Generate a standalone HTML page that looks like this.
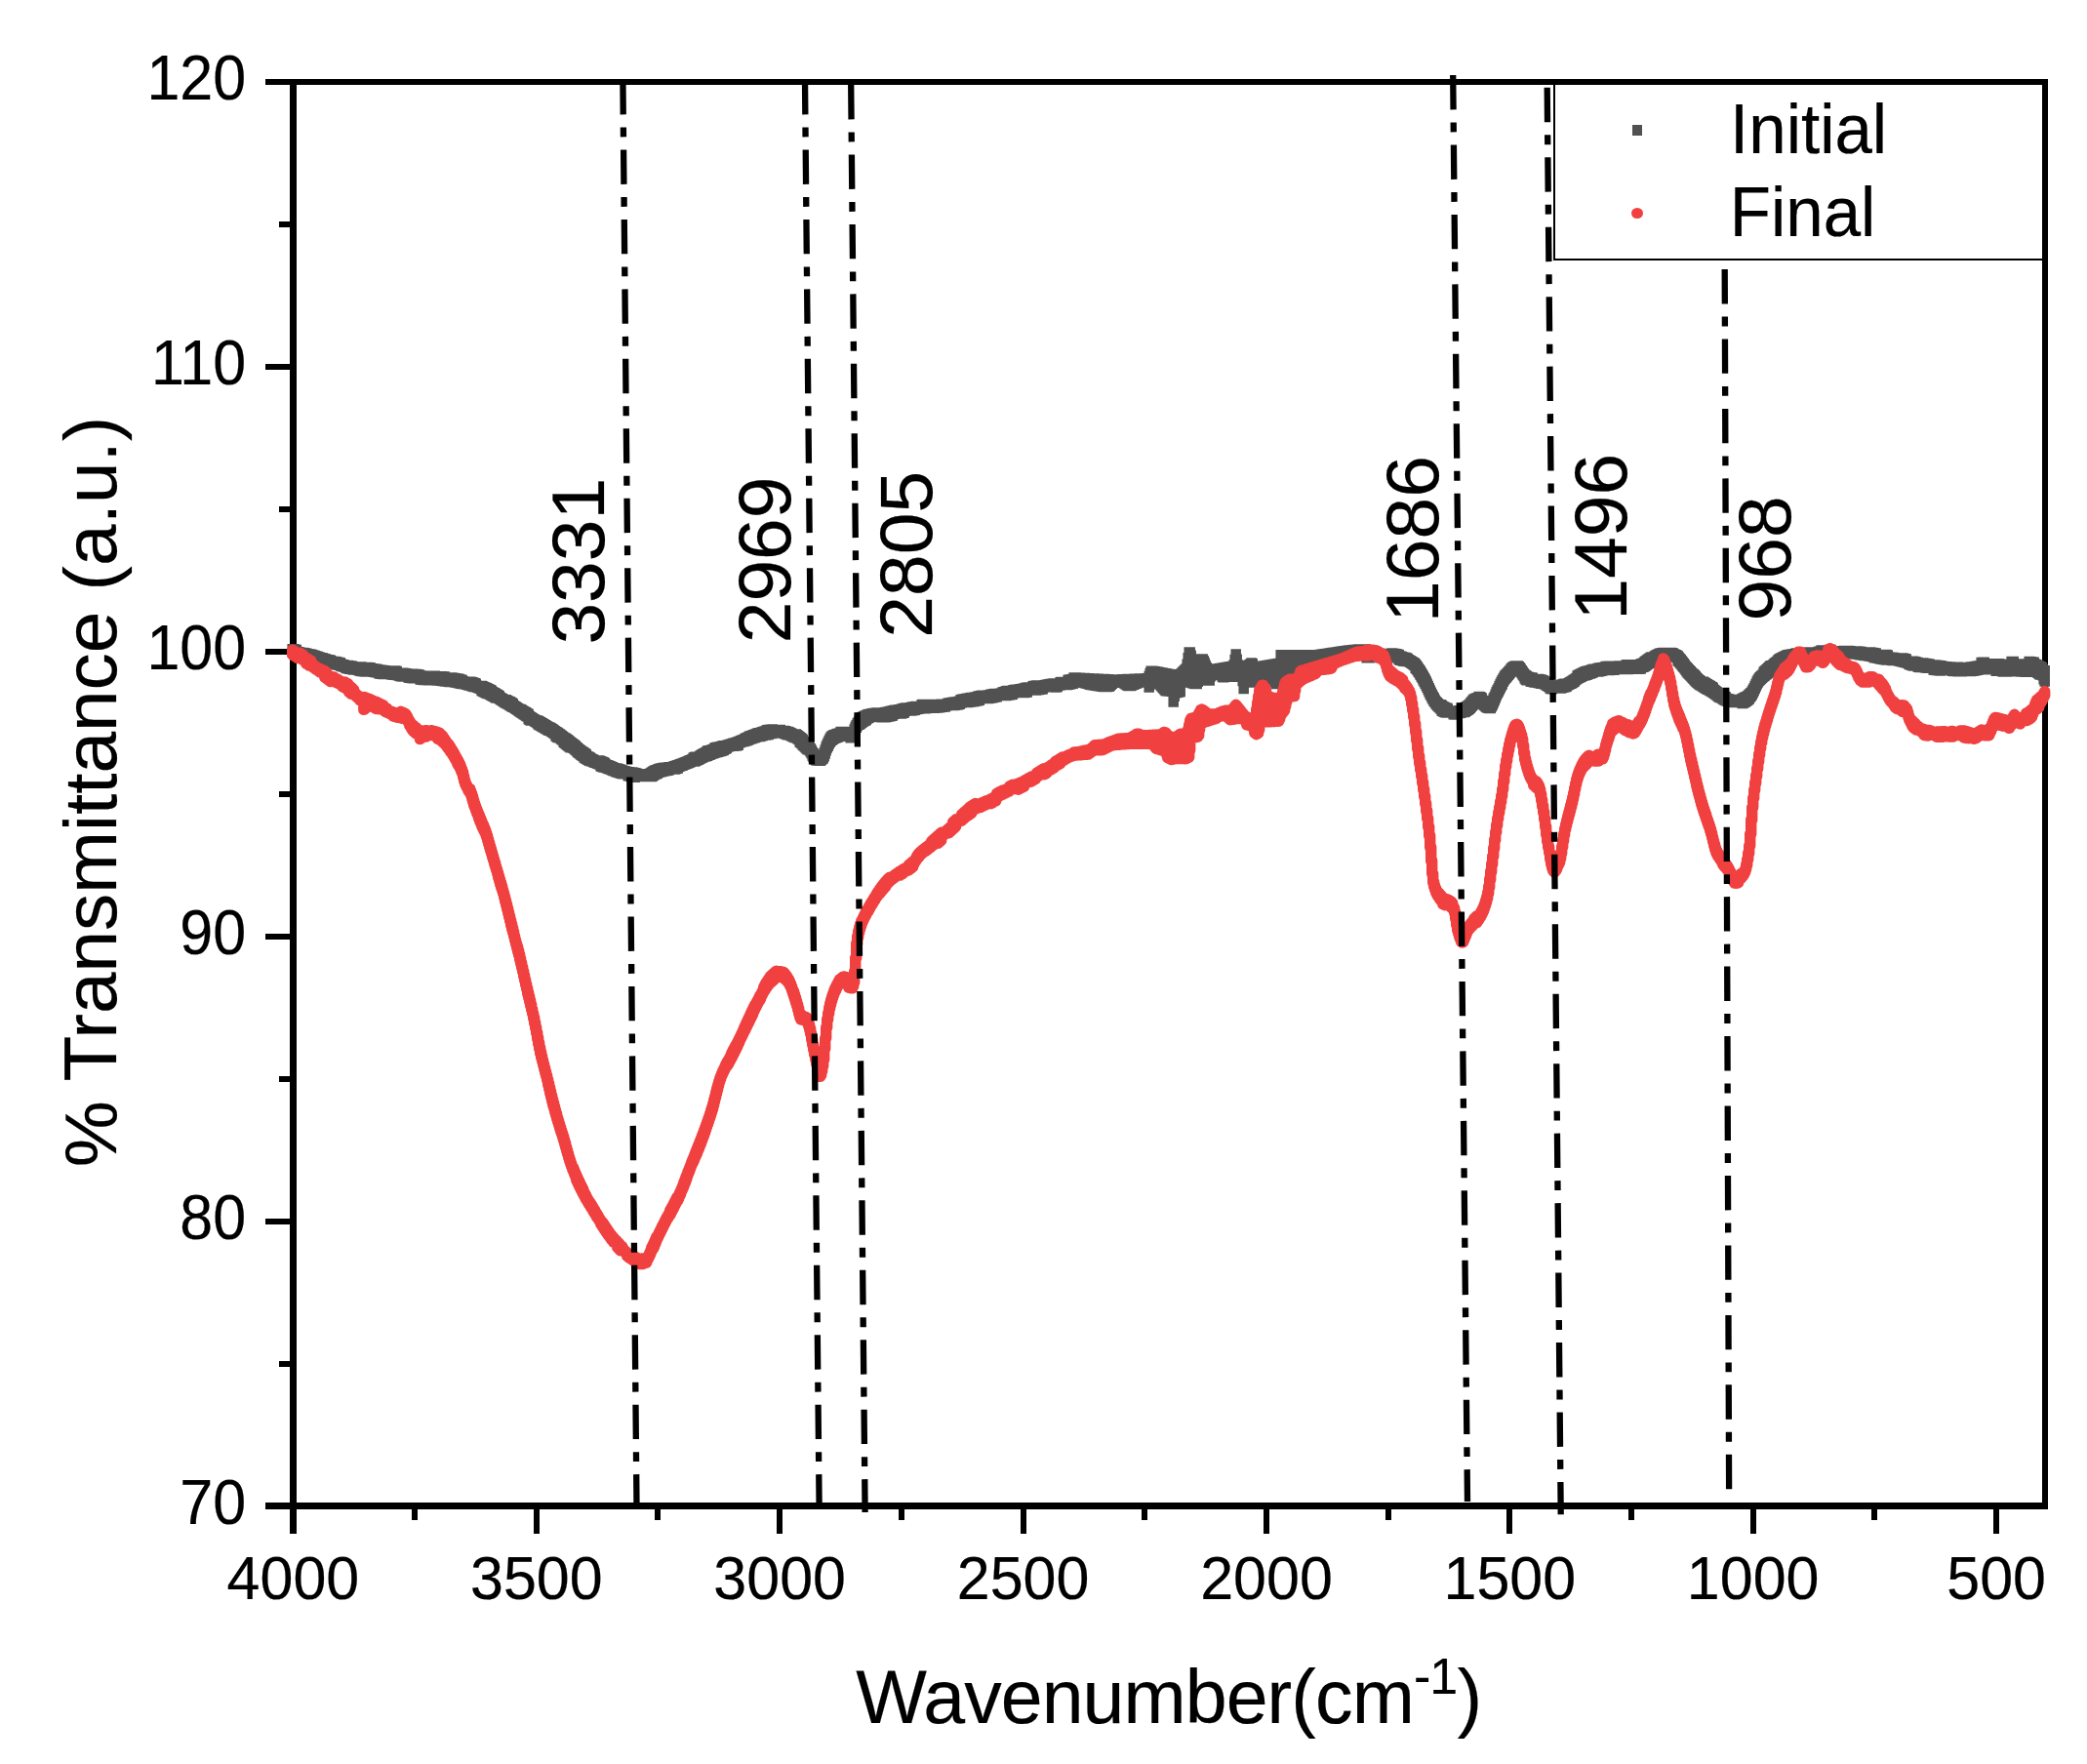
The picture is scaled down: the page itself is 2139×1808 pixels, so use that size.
<!DOCTYPE html>
<html lang="en"><head><meta charset="utf-8"><title>FTIR spectra</title>
<style>html,body{margin:0;padding:0;background:#fff}svg{display:block}text{font-family:"Liberation Sans", sans-serif;fill:#000;stroke:#000;stroke-width:0.2px}</style>
</head><body>
<svg width="2139" height="1808" viewBox="0 0 2139 1808">
<rect width="2139" height="1808" fill="#fff"/>
<g fill="#000" shape-rendering="crispEdges">
<rect x="297" y="81" width="7" height="1491"/>
<rect x="2093" y="81" width="6" height="1466"/>
<rect x="272" y="81" width="1827" height="6"/>
<rect x="272" y="1540" width="1827" height="7"/>
<rect x="286" y="1395" width="12" height="6"/>
<rect x="272" y="1249" width="26" height="6"/>
<rect x="286" y="1103" width="12" height="6"/>
<rect x="272" y="957" width="26" height="6"/>
<rect x="286" y="811" width="12" height="6"/>
<rect x="272" y="665" width="26" height="6"/>
<rect x="286" y="519" width="12" height="6"/>
<rect x="272" y="373" width="26" height="6"/>
<rect x="286" y="227" width="12" height="6"/>
<rect x="422" y="1546" width="6" height="12"/>
<rect x="547" y="1546" width="6" height="26"/>
<rect x="671" y="1546" width="6" height="12"/>
<rect x="796" y="1546" width="6" height="26"/>
<rect x="921" y="1546" width="6" height="12"/>
<rect x="1046" y="1546" width="6" height="26"/>
<rect x="1170" y="1546" width="6" height="12"/>
<rect x="1295" y="1546" width="6" height="26"/>
<rect x="1420" y="1546" width="6" height="12"/>
<rect x="1544" y="1546" width="6" height="26"/>
<rect x="1669" y="1546" width="6" height="12"/>
<rect x="1794" y="1546" width="6" height="26"/>
<rect x="1918" y="1546" width="6" height="12"/>
<rect x="2043" y="1546" width="6" height="26"/>
</g>
<text font-size="61" text-anchor="end" transform="translate(252.2 1561.8) scale(1 1.055)">70</text>
<text font-size="61" text-anchor="end" transform="translate(252.2 1269.9) scale(1 1.055)">80</text>
<text font-size="61" text-anchor="end" transform="translate(252.2 978) scale(1 1.055)">90</text>
<text font-size="61" text-anchor="end" transform="translate(252.2 686.1) scale(1 1.055)">100</text>
<text font-size="61" text-anchor="end" transform="translate(252.2 394.2) scale(1 1.055)">110</text>
<text font-size="61" text-anchor="end" transform="translate(252.2 102.3) scale(1 1.055)">120</text>
<text font-size="61" text-anchor="middle" transform="translate(300.4 1639.3) scale(1 1.025)">4000</text>
<text font-size="61" text-anchor="middle" transform="translate(549.8 1639.3) scale(1 1.025)">3500</text>
<text font-size="61" text-anchor="middle" transform="translate(799.2 1639.3) scale(1 1.025)">3000</text>
<text font-size="61" text-anchor="middle" transform="translate(1048.6 1639.3) scale(1 1.025)">2500</text>
<text font-size="61" text-anchor="middle" transform="translate(1298 1639.3) scale(1 1.025)">2000</text>
<text font-size="61" text-anchor="middle" transform="translate(1547.3 1639.3) scale(1 1.025)">1500</text>
<text font-size="61" text-anchor="middle" transform="translate(1796.7 1639.3) scale(1 1.025)">1000</text>
<text font-size="61" text-anchor="middle" transform="translate(2046.1 1639.3) scale(1 1.025)">500</text>
<text font-size="76.5" text-anchor="middle" transform="translate(119.2 811.6) rotate(-90)">% Transmittance (a.u.)</text>
<text font-size="77" transform="translate(877.3 1766)" letter-spacing="-0.9">Wavenumber(cm<tspan font-size="52" dy="-30">-1</tspan><tspan dy="30">)</tspan></text>
<g fill="none">
<path stroke="#515151" stroke-width="10.5" stroke-linecap="square" d="M299.7 665.2V668.3M300.7 665.3V668.5M301.7 665.5V668.7M302.7 665.7V668.9M303.7 665.9V669.1M304.7 668V669.3M305.7 668.2V669.5M306.7 668.4V669.7M307.7 668.7V671.2M308.7 668.9V671.5M309.7 669.1V671.7M310.7 668.9V671.3M311.7 669.2V671.6M312.7 669.4V671.8M313.7 669.6V672.1M314.7 669.9V672.3M315.7 670.2V672.6M316.7 670.4V672.9M317.7 670.5V672.6M318.7 670.8V672.9M319.7 671.1V673.2M320.7 671.4V673.5M321.7 671.7V673.9M322.7 672V674.2M323.7 672.4V674.6M324.7 672.7V674.9M325.7 673.1V676.7M326.7 673.5V677M327.7 673.8V677.4M328.7 674.2V676.7M329.7 674.2V677M330.7 674.6V677.4M331.7 674.9V677.8M332.7 675.3V678M333.7 675.6V678.3M334.7 676V678.7M335.7 676.3V679.2M336.7 676.2V679.6M337.7 676.5V679.9M338.7 676.8V680.2M339.7 677.6V680.5M340.7 677.9V680.8M341.7 678.2V681M342.7 677.9V680.6M343.7 678.1V680.9M344.7 678.4V681.1M345.7 678.6V681.4M346.7 678.9V681.6M347.7 679.1V681.8M348.7 679.3V682.1M349.7 680.7V682.9M350.7 681V683.1M351.7 681.2V683.3M352.7 681.4V683.5M353.7 682V683.7M354.7 682.2V684.9M355.7 682.4V685.1M356.7 682V685.3M357.7 682.2V685.5M358.7 682.4V685.7M359.7 682.6V685.8M360.7 682.8V686M361.7 683.3V686.2M362.7 683.5V686.4M363.7 683.7V686.6M364.7 683.9V686.4M365.7 684.1V686.6M366.7 684.2V686.7M367.7 684.4V686.9M368.7 684.6V687.5M369.7 683.6V687.7M370.7 683.7V687.9M371.7 683.9V688M372.7 684V688.2M373.7 684.8V688.3M374.7 685V688.4M375.7 685.1V688.6M376.7 684.1V687.9M377.7 684.2V688.1M378.7 684.3V688.2M379.7 684.5V688.3M380.7 685.2V688.4M381.7 685.3V688.6M382.7 685.5V688.7M383.7 685.6V688.8M384.7 685.7V689.1M385.7 685.8V689.2M386.7 685.9V689.3M387.7 686.5V689.4M388.7 686.6V690.5M389.7 686.7V690.6M390.7 686.8V690.7M391.7 686.9V690.8M392.7 687.1V691M393.7 687.2V690M394.7 687.3V690.1M395.7 688.3V690.2M396.7 688.4V690.4M397.7 688.6V690.8M398.7 688.7V690.9M399.7 688.8V691M400.7 689V691.3M401.7 689.1V691.5M402.7 689.2V691.6M403.7 687.4V691.8M404.7 687.6V691.7M405.7 687.7V691.8M406.7 687.9V692M407.7 690.1V692.1M408.7 690.3V692.3M409.7 690.4V692.9M410.7 690.6V693.1M411.7 690.8V693.3M412.7 689.7V693.4M413.7 689.9V692.7M414.7 690V692.9M415.7 690.2V693.1M416.7 690.4V693.2M417.7 690.5V693.4M418.7 690.7V694.5M419.7 690.9V694.7M420.7 691V694.8M421.7 691.2V695M422.7 691.3V695.1M423.7 690.7V695.2M424.7 690.9V693.9M425.7 691V694.1M426.7 691.1V694.2M427.7 691.3V694.3M428.7 691.4V694.4M429.7 691.5V694.5M430.7 692.5V696.5M431.7 692.6V696.6M432.7 692.7V696.7M433.7 692.8V696.8M434.7 692.9V696.9M435.7 693.1V696.9M436.7 693.2V697M437.7 693.2V697.1M438.7 692.9V697.2M439.7 692.9V697.3M440.7 693V697.3M441.7 693.1V695.2M442.7 693.1V695.2M443.7 692.7V695.3M444.7 692.7V695.3M445.7 692.8V695.4M446.7 694.3V695.5M447.7 694.4V697.4M448.7 694.4V697.5M449.7 694.5V697.6M450.7 693.2V697.6M451.7 693.2V697.7M452.7 693.3V697.8M453.7 693.4V697.9M454.7 693.5V698M455.7 693.6V698.3M456.7 694.5V698.4M457.7 694.6V698.5M458.7 694.7V698.6M459.7 694.8V698.7M460.7 694.9V698.9M461.7 695.1V699M462.7 694.6V698.7M463.7 694.8V698.9M464.7 695V699M465.7 695.1V699.2M466.7 695.3V699.4M467.7 695.5V699.6M468.7 695.5V699.8M469.7 695.7V700M470.7 695.9V700.3M471.7 696.5V700.5M472.7 696.7V700.7M473.7 696.9V700.9M474.7 698.4V700.8M475.7 698.6V701.1M476.7 698.8V701.3M477.7 699.1V701.6M478.7 699.3V701.8M479.7 699.6V702.1M480.7 699.9V702.4M481.7 698.7V702.5M482.7 699V702.8M483.7 699.3V703.2M484.7 699.6V703.5M485.7 700V703.9M486.7 700.3V703.6M487.7 700.7V704M488.7 702.8V704.4M489.7 703.2V704.8M490.7 703.6V705.2M491.7 704V705.6M492.7 704.5V706M493.7 703V708.1M494.7 703.5V708.6M495.7 703.9V709M496.7 704.4V709.5M497.7 704.8V710M498.7 705.3V710.4M499.7 705.7V710.9M500.7 706.2V711M501.7 706.7V711.5M502.7 707.2V712M503.7 707.7V712.7M504.7 709.2V713.2M505.7 709.7V713.8M506.7 710.3V714.3M507.7 710.8V714.9M508.7 711.4V715.5M509.7 712V714.9M510.7 712.6V715.5M511.7 713.2V716.1M512.7 714.9V716.7M513.7 715.6V717.5M514.7 716.2V718.1M515.7 716.8V718.7M516.7 717.5V719.4M517.7 718.1V720M518.7 717.2V720.7M519.7 717.9V721.3M520.7 718.5V721.6M521.7 719.1V722.2M522.7 719.3V722.9M523.7 719.9V723.5M524.7 720.6V724.2M525.7 721.2V724.8M526.7 723.2V725.1M527.7 723.9V725.8M528.7 724.5V726.5M529.7 725.2V727.1M530.7 725.9V727.8M531.7 726.6V728.5M532.7 727.3V729.2M533.7 727.1V729.9M534.7 727.8V730.6M535.7 728.5V731.3M536.7 729.1V732M537.7 729.8V732.6M538.7 730.1V733.3M539.7 730.8V734M540.7 731.4V734.6M541.7 732.1V737.1M542.7 734.3V737.7M543.7 735V738.4M544.7 735.6V737.3M545.7 736.2V737.9M546.7 736.9V738.5M547.7 737.5V739.1M548.7 738.1V739.7M549.7 738.7V740.3M550.7 738.4V740.9M551.7 739V742.4M552.7 739.6V743M553.7 740.2V743.6M554.7 740.7V744.1M555.7 741.3V744.7M556.7 741.9V745.3M557.7 742.5V745.8M558.7 743.2V746.4M559.7 743.8V747M560.7 744.4V747.6M561.7 745V748.2M562.7 745.6V748.8M563.7 745.8V748.8M564.7 746.5V749.4M565.7 747.1V750.1M566.7 747.8V750.8M567.7 748.5V751.5M568.7 749.2V752.2M569.7 749.9V754.5M570.7 750.6V755.2M571.7 751.1V756M572.7 751.9V755.6M573.7 752.6V756.3M574.7 753.4V757.1M575.7 754.1V757.9M576.7 754.9V758.6M577.7 755.7V760.7M578.7 756.5V761.5M579.7 756.7V762.3M580.7 757.4V763.1M581.7 758.2V763.9M582.7 759.1V764.6M583.7 759.9V765.4M584.7 760.7V766.2M585.7 761.4V765.3M586.7 762.2V766M587.7 762.9V766.8M588.7 763.7V767.6M589.7 764.5V768.4M590.7 765.8V769.2M591.7 766.6V770.6M592.7 767.4V771.4M593.7 768.2V772.1M594.7 769V772.9M595.7 769.8V773.7M596.7 770.5V774.4M597.7 771V775.1M598.7 771.7V776.5M599.7 772.4V777.1M600.7 773V777.7M601.7 774.9V778.3M602.7 775.5V778.8M603.7 776V779.4M604.7 776.6V779.9M605.7 777.4V779.8M606.7 777.9V780.3M607.7 778.4V780.8M608.7 778.9V781.2M609.7 779.4V781.7M610.7 779.9V781.8M611.7 780.3V782.2M612.7 780.8V782.7M613.7 779.4V783.1M614.7 779.8V783.5M615.7 780.3V785.3M616.7 780.7V785.7M617.7 781.1V786.1M618.7 781.6V786.6M619.7 782V786.3M620.7 783.5V786.7M621.7 783.9V787.1M622.7 784.3V787.5M623.7 784.7V787.9M624.7 785.1V788.3M625.7 785.6V788.6M626.7 786V789M627.7 786.3V789.6M628.7 787V789.9M629.7 787.3V790.3M630.7 787.7V790.6M631.7 787.5V791.2M632.7 787.8V791.5M633.7 788.1V791.8M634.7 788.5V792.1M635.7 788.8V792.4M636.7 789.1V792.7M637.7 789.4V793M638.7 790V793.3M639.7 790.3V792.2M640.7 790.5V792.5M641.7 790.8V792.7M642.7 791V793M643.7 791.3V794.9M644.7 791.2V795.2M645.7 791.4V795.5M646.7 791.7V795.7M647.7 791.5V796M648.7 791.7V796.3M649.7 792V796.5M650.7 792.2V796.8M651.7 792.5V795.8M652.7 792.7V796M653.7 793.5V796.1M654.7 793.6V795.5M655.7 793.8V795.6M656.7 793.2V795.6M657.7 793.2V795.6M658.7 793.2V795.6M659.7 793.8V796M660.7 793.8V796M661.7 793.8V796M662.7 793.8V796M663.7 793.8V796M664.7 793.7V796M665.7 793.4V796M666.7 792.5V795.7M667.7 791.9V796.1M668.7 791.2V795.4M669.7 790.5V794.8M670.7 790V794.1M671.7 789.6V793.5M672.7 789.3V793.2M673.7 789V792.8M674.7 788.3V791.7M675.7 788V791.4M676.7 787.8V791.2M677.7 787.5V790.9M678.7 787.3V790.7M679.7 787.1V790.5M680.7 786.9V790.3M681.7 786.7V790.1M682.7 787.1V789.9M683.7 786.8V789.7M684.7 786.6V789.5M685.7 786.3V789.2M686.7 786.8V788.1M687.7 786.5V787.8M688.7 786.2V787.5M689.7 785.9V787.2M690.7 785.6V786.9M691.7 785.2V788.4M692.7 784.9V788M693.7 784.6V787.7M694.7 784.2V787.4M695.7 783.9V785.7M696.7 783.5V785.4M697.7 783.2V785.1M698.7 782.8V784.7M699.7 782.4V784.4M700.7 782.1V783.8M701.7 781.7V783.5M702.7 781.3V783.1M703.7 780.9V782.7M704.7 780.5V782.3M705.7 780.1V781.9M706.7 779.6V781.5M707.7 779.2V781M708.7 778.8V780.4M709.7 778.3V780M710.7 776.7V779.5M711.7 776.2V780.5M712.7 775.8V780M713.7 776.9V779.6M714.7 776.4V779.1M715.7 775.9V778.7M716.7 775.5V778M717.7 774.4V777.5M718.7 773.9V777M719.7 773.3V776.5M720.7 772.8V776M721.7 772.3V775.5M722.7 771.8V775M723.7 771.3V775.3M724.7 770.1V774.8M725.7 769.6V774.3M726.7 769.2V773.8M727.7 769.3V773.4M728.7 768.9V773M729.7 768.5V772.6M730.7 768.2V772.2M731.7 767.8V771.9M732.7 766.6V771.6M733.7 766.3V771.2M734.7 766V771M735.7 765.7V770.7M736.7 765.7V770.4M737.7 765.5V770.1M738.7 765.2V769.9M739.7 764.9V769.6M740.7 764.6V769.3M741.7 764.3V769M742.7 764.7V767.7M743.7 764.4V767.4M744.7 764V767M745.7 763.7V765.6M746.7 763.4V765.3M747.7 763V764.9M748.7 762.9V764.6M749.7 762.5V764.2M750.7 762.2V763.9M751.7 761.8V764.7M752.7 761.5V764.4M753.7 761.5V764M754.7 761.1V764.4M755.7 760.8V764.1M756.7 760.2V763.7M757.7 759.9V761.3M758.7 759.5V761M759.7 759.1V760.6M760.7 758.7V760.2M761.7 758.3V759.9M762.7 758V760M763.7 757V759.6M764.7 756.6V759.3M765.7 756.2V758.9M766.7 755.8V758.5M767.7 755V758M768.7 754.6V757.6M769.7 754.3V757.3M770.7 753.9V756.9M771.7 753.5V756.6M772.7 753.2V756.3M773.7 752.8V755.9M774.7 752.4V755.6M775.7 752V755.2M776.7 751.6V754.8M777.7 751.2V754.4M778.7 751.3V755M779.7 750.9V754.6M780.7 750.6V754.2M781.7 750.2V753.9M782.7 749.9V753.5M783.7 749.6V753.2M784.7 749.4V753.5M785.7 748.4V753.2M786.7 748.3V753M787.7 748.1V752.9M788.7 748V752.1M789.7 747.8V752M790.7 747.7V751.9M791.7 747.5V751.6M792.7 748.4V751.4M793.7 748.3V751.3M794.7 748.2V751.2M795.7 748.1V751.2M796.7 748V751.1M797.7 748V751M798.7 747.9V751M799.7 747.9V750.9M800.7 748.9V750.9M801.7 748.9V750.9M802.7 749V751.1M803.7 749.1V751.9M804.7 749.3V752.1M805.7 749.6V752.5M806.7 749.9V752.9M807.7 750V753.3M808.7 750.4V753M809.7 750.9V753.5M810.7 751.6V754M811.7 752.1V754.5M812.7 752.5V754.9M813.7 753V755.5M814.7 753.6V756.1M815.7 752.6V755.8M816.7 753.2V756.4M817.7 753.9V757.2M818.7 754.7V758M819.7 755.4V760.4M820.7 756.2V761.2M821.7 757.1V762.1M822.7 757.9V763.4M823.7 759.9V764.3M824.7 760.8V765.3M825.7 761.8V766.3M826.7 762.8V767.2M827.7 763.9V768.2M828.7 765.1V767.8M829.7 765.8V769M830.7 767.3V770.4M831.7 769V772.2M832.7 770.9V774.4M833.7 772.6V776.1M834.7 773.8V777.6M835.7 774.7V778.7M836.7 775.6V779.5M837.7 777.4V779.1M838.7 778.1V779.6M839.7 778.5V779.7M840.7 778.1V779.7M841.7 777.1V779.1M842.7 775.8V778M843.7 774.3V777.2M844.7 771.6V775.2M845.7 768.5V772.5M846.7 765.6V769.3M847.7 763.3V766.6M848.7 761.1V764.8M849.7 758.9V762.6M850.7 757.1V760.7M851.7 755.5V759.3M852.7 754.5V758.5M853.7 753.9V757.7M854.7 753.3V757.1M855.7 753.2V756.5M856.7 752.7V756.2M857.7 752.3V755.8M858.7 752V755.4M859.7 751.7V755M860.7 751.5V754.8M861.7 750V754.6M862.7 749.9V754.5M863.7 749.9V752.9M864.7 750.1V753.2M865.7 750.5V753.7M866.7 750.9V753.9M867.7 751.4V754.3M868.7 751.9V754.6M869.7 753V754.8M870.7 753.1V754.8M871.7 752.8V756.3M872.7 752.3V756M873.7 751.7V755.6M874.7 750.3V753.9M875.7 747.6V751.2M876.7 745.1V748.3M877.7 743.2V745.8M878.7 741.6V744.1M879.7 740.2V742.7M880.7 738.7V742.7M881.7 737.9V741.7M882.7 737.2V740.9M883.7 735.2V740.2M884.7 734.6V739.6M885.7 734.1V739.1M886.7 733.7V738.6M887.7 733.3V738.1M888.7 732.8V736.5M889.7 732.3V736M890.7 731.9V735.6M891.7 732.1V735.1M892.7 731.7V734.7M893.7 731.3V734.3M894.7 731.4V733.9M895.7 731.1V733.5M896.7 730.9V734.7M897.7 730.7V734.5M898.7 730.6V734.3M899.7 730.6V734.2M900.7 730.9V734.3M901.7 731V734.6M902.7 731.3V734.9M903.7 731.6V735.2M904.7 731.6V735.2M905.7 731.6V735.2M906.7 730.2V735.2M907.7 730.1V735.1M908.7 729.9V735M909.7 729.8V734.6M910.7 729.5V734.4M911.7 729.3V734.2M912.7 729.1V733.9M913.7 728.8V733.7M914.7 728.6V733.5M915.7 728.3V732.1M916.7 728.1V731.8M917.7 727.8V731.5M918.7 728.1V731.3M919.7 727.8V731M920.7 727.5V730.7M921.7 727.2V730.4M922.7 727.2V730.1M923.7 726.9V731.4M924.7 726.6V731.1M925.7 726.3V730.8M926.7 726.1V730.6M927.7 725.8V728.7M928.7 725.5V728.4M929.7 725.9V728.2M930.7 725.7V727.9M931.7 725.5V727.7M932.7 725.3V727.5M933.7 725.2V728.4M934.7 724.7V728.2M935.7 724.5V728M936.7 724.4V727.9M937.7 724.3V727.7M938.7 724.1V727M939.7 725.1V726.9M940.7 725V726.7M941.7 724.9V726.6M942.7 724.8V726.5M943.7 724.6V726.1M944.7 722.2V725.9M945.7 722.1V725.8M946.7 722V726.3M947.7 721.9V726.2M948.7 723.4V726M949.7 723.3V725.9M950.7 723.2V725.8M951.7 723.1V725.8M952.7 722.9V725.7M953.7 722.5V725.6M954.7 722.4V725.5M955.7 722.2V725.4M956.7 722.1V725.2M957.7 722V725.7M958.7 721.9V725.6M959.7 722.4V725.5M960.7 722.3V725.4M961.7 722.1V725.3M962.7 722V725.2M963.7 721.9V725.1M964.7 721.8V724.8M965.7 721.7V724.7M966.7 722V724.6M967.7 721.9V724.5M968.7 721.8V724.4M969.7 721.7V723.3M970.7 721.5V723.2M971.7 720.7V723M972.7 720.6V722.9M973.7 720.4V722.8M974.7 720.3V722.6M975.7 720.1V722.5M976.7 720V723M977.7 719.8V722.9M978.7 719.6V722.7M979.7 719.6V722.5M980.7 719.4V722.4M981.7 719.2V722.2M982.7 719V722M983.7 718.8V721.8M984.7 717.2V720.5M985.7 717V720.3M986.7 716.8V720.1M987.7 716.6V719.9M988.7 716.4V719.7M989.7 716.2V719.5M990.7 716V719.3M991.7 715.8V720M992.7 715.7V719.8M993.7 715.5V719.6M994.7 715.2V719.4M995.7 715V719.1M996.7 715.2V719.3M997.7 715V719.1M998.7 714.8V718.9M999.7 714.6V718.6M1000.7 714.4V718.4M1001.7 714.2V718.2M1002.7 713.6V718M1003.7 713.4V717.8M1004.7 713.2V716.3M1005.7 713V716.1M1006.7 712.8V715.9M1007.7 714.4V715.7M1008.7 714.2V715.5M1009.7 714V715.3M1010.7 713.8V715.2M1011.7 713.6V715M1012.7 712.6V716M1013.7 712.4V715.8M1014.7 712.3V715.6M1015.7 711.8V715.4M1016.7 711.6V715.2M1017.7 711.5V715M1018.7 711.3V714.7M1019.7 711.1V714.5M1020.7 711.5V714.3M1021.7 711.4V714.2M1022.7 711.2V712.6M1023.7 711V712.5M1024.7 710.8V712.3M1025.7 710.7V712.1M1026.7 710.5V711.9M1027.7 709.5V711.8M1028.7 709.3V711.6M1029.7 709.2V711.4M1030.7 708.4V713M1031.7 708.3V712.8M1032.7 708.1V712.6M1033.7 708.4V712.5M1034.7 708.2V712.3M1035.7 708V712.1M1036.7 707.9V711.9M1037.7 707.7V711.8M1038.7 707.2V710.2M1039.7 707V710M1040.7 706.9V709.9M1041.7 706.7V709.7M1042.7 706.8V709.5M1043.7 706.7V709.3M1044.7 706.5V709.3M1045.7 706.3V709.2M1046.7 706.2V709M1047.7 706V708.8M1048.7 705.8V708.7M1049.7 705.7V710M1050.7 705.1V709.8M1051.7 704.9V709.6M1052.7 704.7V709.5M1053.7 704.5V707.2M1054.7 705.7V707M1055.7 705.5V706.9M1056.7 705.3V706.7M1057.7 705.1V706.5M1058.7 703.3V706.4M1059.7 703.1V706.2M1060.7 702.9V706M1061.7 702.8V707.4M1062.7 702.6V707.2M1063.7 702.4V707M1064.7 703.3V706.9M1065.7 703.1V706.7M1066.7 703V706.5M1067.7 702.8V706.4M1068.7 702.6V706.2M1069.7 702.5V704.4M1070.7 702.3V704.2M1071.7 702.1V704.1M1072.7 702V703.9M1073.7 701.6V703.8M1074.7 701.5V703.6M1075.7 701.3V703.4M1076.7 701.1V703.3M1077.7 701V703.1M1078.7 700.8V702.9M1079.7 700.6V702.8M1080.7 701.5V702.6M1081.7 701.3V704.4M1082.7 701.1V704.2M1083.7 701V704.1M1084.7 700.8V702.6M1085.7 700.6V702.4M1086.7 699.3V702.3M1087.7 699.1V702.1M1088.7 698.9V701.9M1089.7 699.9V701.7M1090.7 699.7V701.4M1091.7 699.5V701.2M1092.7 699.2V702.1M1093.7 699V701.9M1094.7 696.9V701.7M1095.7 696.7V701.5M1096.7 696.5V701.3M1097.7 696.4V701M1098.7 696.2V700.8M1099.7 696.1V700.7M1100.7 694.5V698.1M1101.7 694.6V698.1M1102.7 694.6V698.1M1103.7 694.7V698.1M1104.7 694.7V698.1M1105.7 694.8V698.3M1106.7 694.8V698.6M1107.7 694.9V698.9M1108.7 695V699.2M1109.7 695V699.5M1110.7 695.1V699.7M1111.7 695.1V700M1112.7 695.2V700.3M1113.7 695.2V700.6M1114.7 695.3V700.8M1115.7 695.3V701.1M1116.7 695.4V701.4M1117.7 695.4V701.7M1118.7 695.5V701.9M1119.7 695.5V702M1120.7 695.6V702.2M1121.7 695.6V702.4M1122.7 695.7V702.5M1123.7 695.7V702.7M1124.7 695.8V702.9M1125.7 695.8V703M1126.7 695.9V703.2M1127.7 695.9V703.3M1128.7 696V703.5M1129.7 696V703.7M1130.7 696.1V703.8M1131.7 696.1V704M1132.7 696.2V704M1133.7 696.2V704M1134.7 696.3V703.9M1135.7 696.3V703.8M1136.7 696.4V703.8M1137.7 696.4V702.8M1138.7 696.4V701.8M1139.7 696.4V700.8M1140.7 696.4V699.8M1141.7 696.4V699.8M1142.7 696.4V699.8M1143.7 696.4V699.8M1144.7 696.4V699.8M1145.7 696.4V699.8M1146.7 696.4V699.8M1147.7 696.4V699.8M1148.7 696.4V699.8M1149.7 696.4V699.8M1150.7 696.3V699.8M1151.7 696.3V700M1152.7 696.3V700.6M1153.7 696.2V701.3M1154.7 696.2V701.9M1155.7 696.1V702.5M1156.7 696.1V703.1M1157.7 696V703.1M1158.7 696V702.9M1159.7 696V702.5M1160.7 695.9V702.1M1161.7 695.9V701.7M1162.7 695.8V701.2M1163.7 695.8V700.8M1164.7 695.8V700.4M1165.7 695.7V700M1166.7 695.7V699.6M1167.7 695.6V699.6M1168.7 695.6V699.6M1169.7 695.6V699.6M1170.7 695.5V699.6M1171.7 695.5V699.6M1172.7 695.4V699.6M1173.7 695.4V699.6M1174.7 695.3V699.6M1175.7 695.3V699.6M1176.7 695.3V699.6M1177.7 693.1V704.5M1178.7 690.1V701.3M1179.7 687.7V701.3M1180.7 687.7V701.3M1181.7 687.9V701.3M1182.7 688.1V701.3M1183.7 688.3V701.3M1184.7 688.5V701.3M1185.7 688.6V701.3M1186.7 688.8V701.3M1187.7 689V701.3M1188.7 689.2V701.3M1189.7 689.4V702.4M1190.7 689.6V703.5M1191.7 689.8V704.7M1192.7 690V705.8M1193.7 690.2V706.9M1194.7 690.3V708M1195.7 690.5V708.2M1196.7 690.7V708.3M1197.7 690.9V708.4M1198.7 691.1V708.5M1199.7 691.3V708.6M1200.7 691.3V708.7M1201.7 691.3V708.8M1202.7 691.3V719.6M1203.7 691.3V713.7M1204.7 691.3V710.2M1205.7 691.3V710M1206.7 691.3V709.7M1207.7 691.3V709.4M1208.7 691.3V709.2M1209.7 691.3V708.9M1210.7 690.6V699.5M1211.7 689.6V699.5M1212.7 688.6V699.5M1213.7 687.6V699.5M1214.7 686.6V699.5M1215.7 685.6V699.5M1216.7 680.7V699.5M1217.7 674.2V699.5M1218.7 668.4V699.5M1219.7 668.4V699.5M1220.7 671.7V699.5M1221.7 675.5V699.9M1222.7 675.5V700.2M1223.7 675.5V700.6M1224.7 675.5V700.9M1225.7 675.5V701.1M1226.7 675.5V701M1227.7 675.5V698.7M1228.7 675.5V697.4M1229.7 675.5V697.4M1230.7 675.5V697.4M1231.7 675.5V697.4M1232.7 675.5V697.4M1233.7 677.2V697.4M1234.7 679.5V697.4M1235.7 681.9V697.4M1236.7 684.2V697.4M1237.7 685.6V697.4M1238.7 685.6V697.4M1239.7 685.6V697.4M1240.7 685.6V693.3M1241.7 685.6V692M1242.7 685.6V692M1243.7 685.6V692M1244.7 685.6V692M1245.7 685.6V692M1246.7 685.6V692M1247.7 685.6V692M1248.7 685.4V692M1249.7 685.2V692M1250.7 685.1V692M1251.7 684.9V692M1252.7 684.7V693.4M1253.7 684.6V694.2M1254.7 684.4V694M1255.7 684.2V693.8M1256.7 684.1V693.8M1257.7 683.9V693.8M1258.7 683.7V693.8M1259.7 683.6V693.8M1260.7 683.4V693.8M1261.7 683.2V693.8M1262.7 683.1V693.8M1263.7 682.9V693.8M1264.7 681.6V693.8M1265.7 676.1V693.8M1266.7 670.5V693.8M1267.7 675.8V693.8M1268.7 681.6V693.8M1269.7 682.1V693.8M1270.7 682.1V693.8M1271.7 682.1V693.8M1272.7 682.1V693.8M1273.7 682.1V698.1M1274.7 682.1V706M1275.7 682.1V699.5M1276.7 682.1V699.5M1277.7 682.1V699.5M1278.7 682.1V699.5M1279.7 682.1V699.5M1280.7 681.2V699.5M1281.7 680.4V699.4M1282.7 679.6V699.2M1283.7 680.2V699.1M1284.7 682.8V698.9M1285.7 682.8V698.7M1286.7 682.8V698.5M1287.7 682.8V698.3M1288.7 682.8V698.1M1289.7 682.8V697.9M1290.7 682.8V697.7M1291.7 682.8V697.6M1292.7 682.8V697.4M1293.7 682.8V697.2M1294.7 682.8V697M1295.7 682.6V696.8M1296.7 682.4V696.8M1297.7 682.2V696.8M1298.7 682.1V696.8M1299.7 681.9V696.8M1300.7 681.7V696.8M1301.7 681.6V696.8M1302.7 681.4V696.8M1303.7 681.2V696.8M1304.7 681.1V696.8M1305.7 680.9V696.8M1306.7 680.7V699.1M1307.7 680.6V701M1308.7 680.4V700M1309.7 680.2V699.1M1310.7 680.1V698.1M1311.7 679.9V697.2M1312.7 671.2V696.3M1313.7 671.2V695.3M1314.7 671.2V694.4M1315.7 671.2V693.5M1316.7 671.2V692.5M1317.7 671.2V691.6M1318.7 671.2V690.6M1319.7 671.2V689.7M1320.7 671.2V688.8M1321.7 671.2V687.8M1322.7 671.2V686.9M1323.7 671.2V686M1324.7 671.2V685M1325.7 671.2V684.3M1326.7 671.2V683.6M1327.7 671.2V682.9M1328.7 671.2V682.2M1329.7 671.2V681.5M1330.7 671.2V680.8M1331.7 671.2V680.1M1332.7 671.2V679.4M1333.7 671.2V678.7M1334.7 671.2V678M1335.7 671.2V677.3M1336.7 671.2V676.6M1337.7 671.2V675.9M1338.7 671.2V675.2M1339.7 671.2V674.6M1340.7 671.2V674.4M1341.7 671.2V674.1M1342.7 671.2V673.8M1343.7 671.2V673.5M1344.7 671.2V673.2M1345.7 671.2V673M1346.7 671.2V672.7M1347.7 671.2V672.4M1348.7 671.2V672.1M1349.7 671.2V671.9M1350.7 671.2V671.6M1351.7 671.2V671.3M1352.7 671.1h0M1353.7 670.9h0M1354.7 670.8h0M1355.7 670.6h0M1356.7 670.5h0M1357.7 670.3h0M1358.7 670.2h0M1359.7 670h0M1360.7 669.9h0M1361.7 669.7h0M1362.7 669.6h0M1363.7 669.4h0M1364.7 669.3h0M1365.7 669.1h0M1366.7 669h0M1367.7 668.8h0M1368.7 668.7h0M1369.7 668.5h0M1370.7 668.4h0M1371.7 668.2h0M1372.7 668.1h0M1373.7 667.9h0M1374.7 667.8h0M1375.7 667.6h0M1376.7 667.5h0M1377.7 667.3h0M1378.7 667.2h0M1379.7 667h0M1380.7 666.9h0M1381.7 666.7h0M1382.7 666.6h0M1383.7 666.5h0M1384.7 666.4h0M1385.7 666.3h0M1386.7 666.2h0M1387.7 666.1h0M1388.7 666h0M1389.7 665.9h0M1390.7 665.8h0M1391.7 665.7h0M1392.7 665.6h0M1393.7 665.5h0M1394.7 665.4h0M1395.7 665.4h0M1396.7 665.4h0M1397.7 665.4h0M1398.7 665.4h0M1399.7 665.4h0M1400.7 670.5V674.3M1401.7 670.5V674.2M1402.7 670.4V674.2M1403.7 670.4V674.2M1404.7 670.4V674.1M1405.7 670.3V674.1M1406.7 670.3V674.1M1407.7 670.2V672M1408.7 670.2V672M1409.7 670.5V672M1410.7 670.5V671.9M1411.7 670.4V671.9M1412.7 670.4V671.9M1413.7 670.4V671.9M1414.7 670.4V671.8M1415.7 670.3V673.2M1416.7 670V673.2M1417.7 670V673.2M1418.7 669.9V673.1M1419.7 669.9V673.1M1420.7 669.9V673.1M1421.7 670.2V673.1M1422.7 670.2V673.8M1423.7 670.2V673.9M1424.7 670.2V673.9M1425.7 670.3V674.1M1426.7 669.5V674.2M1427.7 669.7V672.4M1428.7 669.9V672.7M1429.7 670.1V672.9M1430.7 670.3V673.2M1431.7 670.6V673.4M1432.7 670.8V673.7M1433.7 671.1V676.1M1434.7 672.5V676.4M1435.7 672.8V676.7M1436.7 673.1V677M1437.7 673.4V677.3M1438.7 673.7V677.7M1439.7 674.1V677M1440.7 674.1V677.4M1441.7 674.5V677.9M1442.7 675V677.3M1443.7 676.2V677.9M1444.7 676.8V678.5M1445.7 677.3V679.1M1446.7 677.9V679.7M1447.7 678.6V680.4M1448.7 679.3V681.2M1449.7 679.7V682.1M1450.7 680.7V684.7M1451.7 682V685.7M1452.7 683.4V687M1453.7 684.9V688.4M1454.7 686.4V690M1455.7 687.8V691.7M1456.7 689.5V693.4M1457.7 691.3V695.1M1458.7 693V697.2M1459.7 694.8V699M1460.7 696.6V700.7M1461.7 698.6V702.7M1462.7 700.8V704.8M1463.7 703V707.1M1464.7 705.2V709.3M1465.7 707.5V711.6M1466.7 709.7V713.2M1467.7 711.8V715.2M1468.7 713.7V717.1M1469.7 715.3V718.7M1470.7 717.6V720.1M1471.7 718.9V721.4M1472.7 720.1V722.6M1473.7 720.9V723.8M1474.7 722V724.6M1475.7 723.1V725.6M1476.7 722.2V726.6M1477.7 723.1V728.4M1478.7 723.9V729.1M1479.7 724.6V729.6M1480.7 725.1V730M1481.7 725.5V730.3M1482.7 725.8V730.6M1483.7 726.1V729.9M1484.7 728.7V730.2M1485.7 728.9V730.4M1486.7 729.2V730.1M1487.7 729.2V730.3M1488.7 729.4V730.4M1489.7 729.6V732.2M1490.7 729.7V732.3M1491.7 728.4V732.4M1492.7 728.5V731M1493.7 728.5V731M1494.7 728.5V731M1495.7 728.3V731M1496.7 729.3V730.8M1497.7 728.9V730.4M1498.7 728.4V730M1499.7 727.8V729.5M1500.7 727.1V730M1501.7 726.5V729.4M1502.7 724.6V728.7M1503.7 723.9V728M1504.7 723.3V727.4M1505.7 722.4V726.7M1506.7 721.5V725.8M1507.7 720V724.6M1508.7 718.9V723.4M1509.7 717.7V722.2M1510.7 716.4V721.1M1511.7 716.5V720.1M1512.7 715.8V719.2M1513.7 715.4V718.1M1514.7 715.3V717.7M1515.7 714V717.9M1516.7 714.3V718.4M1517.7 714.8V719.7M1518.7 715.6V720.5M1519.7 718.1V721.5M1520.7 719V722.4M1521.7 720V723.3M1522.7 720.9V724.2M1523.7 721.8V724.9M1524.7 720.8V725.4M1525.7 721.4V725.7M1526.7 721.5V726.1M1527.7 720.6V726M1528.7 719.8V724.3M1529.7 718.2V722.4M1530.7 716V720.2M1531.7 714.2V717.9M1532.7 711.7V715.4M1533.7 709.3V713M1534.7 707.3V710.8M1535.7 705.4V708.9M1536.7 702.9V707M1537.7 701V705.1M1538.7 699.1V703.1M1539.7 697.2V701.3M1540.7 695.4V698.8M1541.7 693.7V697.1M1542.7 692.1V695.6M1543.7 691.5V694.4M1544.7 690.3V693.2M1545.7 689.2V692.1M1546.7 688.1V691M1547.7 687V689.4M1548.7 685.4V688.4M1549.7 684.5V687.4M1550.7 683.7V686.5M1551.7 683.2V685.8M1552.7 682.8V685.2M1553.7 682.6V685M1554.7 682.6V684.9M1555.7 682.6V685.4M1556.7 683.2V686M1557.7 684.3V687.1M1558.7 685.7V688.5M1559.7 687.3V690.1M1560.7 688.8V691.6M1561.7 690.3V693.1M1562.7 691.7V695.2M1563.7 692.1V696.6M1564.7 693V697.2M1565.7 693.7V696.9M1566.7 693.9V697.1M1567.7 694.2V697.3M1568.7 694.4V698.6M1569.7 694.5V698.7M1570.7 694.7V698.8M1571.7 696V699M1572.7 696.1V699.4M1573.7 696.2V699.5M1574.7 696.3V699.6M1575.7 695.9V699.7M1576.7 696V699.9M1577.7 696.2V700.1M1578.7 696.4V700.4M1579.7 696.7V700.7M1580.7 697V700M1581.7 697.5V700.5M1582.7 698V701.1M1583.7 699V701.6M1584.7 699.6V702.2M1585.7 700.2V702.8M1586.7 700.8V703.4M1587.7 701.4V703.9M1588.7 701.9V705.6M1589.7 702.4V706M1590.7 702.8V706.3M1591.7 702.7V704.8M1592.7 702.9V705M1593.7 703V705M1594.7 703V704.9M1595.7 703.1V704.9M1596.7 702.9V704.8M1597.7 702.7V704.6M1598.7 702.5V705.6M1599.7 702V705.4M1600.7 701.7V705.1M1601.7 701.4V704.8M1602.7 701.1V704.5M1603.7 700.8V704.2M1604.7 701.6V704M1605.7 701.2V703.6M1606.7 700.7V702.3M1607.7 700.2V701.8M1608.7 699.6V701.3M1609.7 699V700.8M1610.7 698.4V700.4M1611.7 697.7V699.8M1612.7 697.1V699.1M1613.7 696.4V698.5M1614.7 695.7V696.9M1615.7 695.1V696.3M1616.7 692.6V695.6M1617.7 692V695M1618.7 691.4V694.5M1619.7 690.9V693.9M1620.7 690.4V693.4M1621.7 690V692.9M1622.7 689.6V692.5M1623.7 689V692.1M1624.7 688.6V692.2M1625.7 688.2V691.8M1626.7 687.8V691.4M1627.7 688V691M1628.7 687.6V690.6M1629.7 687.2V690.4M1630.7 686.8V690M1631.7 686.5V689.6M1632.7 686.1V689.2M1633.7 685.8V688.4M1634.7 686V688.1M1635.7 685.7V687.7M1636.7 685.4V687.4M1637.7 685.1V688.5M1638.7 684.8V688.2M1639.7 684.6V687.9M1640.7 684.4V687.7M1641.7 684.2V687.5M1642.7 684.2V687.3M1643.7 684V686.3M1644.7 683.9V686.1M1645.7 683.1V686M1646.7 683V685.9M1647.7 682.9V685.8M1648.7 682.8V687M1649.7 682.7V686.9M1650.7 682.7V686.8M1651.7 683.4V686.8M1652.7 683.3V686.7M1653.7 683.3V686.7M1654.7 683.2V686.6M1655.7 683.2V685.2M1656.7 683.2V685.2M1657.7 683.1V685.1M1658.7 683.1V685.1M1659.7 682.6V685.1M1660.7 682.6V685M1661.7 682.5V685M1662.7 682.5V685M1663.7 683.5V686.1M1664.7 683.5V686M1665.7 683.4V686M1666.7 681.4V686M1667.7 681.3V685.9M1668.7 681.3V685.9M1669.7 681.2V685.8M1670.7 681.2V685.8M1671.7 681.5V684.5M1672.7 681.4V684.4M1673.7 681.3V684.4M1674.7 682.4V685.1M1675.7 682.3V685.1M1676.7 682.2V685M1677.7 682.2V684.9M1678.7 682.1V685.8M1679.7 681.9V685.7M1680.7 681.8V685.6M1681.7 680.6V685.5M1682.7 680.3V684.1M1683.7 679.9V683.8M1684.7 679.4V683.4M1685.7 678.3V682.9M1686.7 677.6V682.2M1687.7 676.9V681.5M1688.7 676.1V680.8M1689.7 675.4V680M1690.7 674.7V679.7M1691.7 674.1V679M1692.7 673.5V678.3M1693.7 674.1V677.8M1694.7 673.5V676.2M1695.7 672.8V675.5M1696.7 672.1V674.9M1697.7 671.5V674.2M1698.7 671.1V673.5M1699.7 670.5V673.8M1700.7 670V673.2M1701.7 669.5V672.7M1702.7 669.5V672.3M1703.7 669.2V671.9M1704.7 669.1V671.7M1705.7 669.1V671.5M1706.7 669.5V671.7M1707.7 669.5V671.8M1708.7 669.6V672M1709.7 669.7V672.1M1710.7 669.9V672.3M1711.7 670.1V672.6M1712.7 669.1V672.8M1713.7 669.3V671.8M1714.7 669.6V672.1M1715.7 670.5V672.4M1716.7 670.8V672.8M1717.7 671.2V673.4M1718.7 671.8V674.2M1719.7 672.6V677.3M1720.7 673.7V678.1M1721.7 674.9V679.2M1722.7 676.1V680.3M1723.7 677.5V681.6M1724.7 678.8V682.9M1725.7 680.1V684M1726.7 681.5V685.3M1727.7 682.9V686.7M1728.7 684.1V688.2M1729.7 685.1V689.4M1730.7 686.2V690.4M1731.7 687.3V691.5M1732.7 688.3V692.5M1733.7 689.4V693.6M1734.7 690.5V694.7M1735.7 691.1V695.8M1736.7 692.1V696.9M1737.7 693.1V697.9M1738.7 694.6V698.9M1739.7 695.5V699.8M1740.7 696.5V700.7M1741.7 697.3V701.5M1742.7 698.1V702.3M1743.7 698.9V702.5M1744.7 699.6V703.2M1745.7 698.7V703.9M1746.7 699.4V704.5M1747.7 700.1V705.2M1748.7 700.7V705.8M1749.7 701.3V706.4M1750.7 701.9V706.7M1751.7 702.5V707.3M1752.7 703.1V707.9M1753.7 703.7V708.5M1754.7 704.3V709.1M1755.7 704.9V709.8M1756.7 707.1V710.5M1757.7 707.8V711.1M1758.7 708.4V711.9M1759.7 709.2V712.6M1760.7 709.9V713.4M1761.7 710.7V714.2M1762.7 711.5V715M1763.7 711.3V714.9M1764.7 712V715.6M1765.7 712.7V716.3M1766.7 713.4V716.9M1767.7 714V717.5M1768.7 714.6V717.9M1769.7 716V718.4M1770.7 716.3V718.7M1771.7 716.6V719M1772.7 716.8V719.2M1773.7 717.1V719.5M1774.7 717.3V719.7M1775.7 717.5V719.9M1776.7 717.2V720.1M1777.7 717.4V719.6M1778.7 717.6V719.8M1779.7 717.7V719.9M1780.7 718.3V720M1781.7 718.4V720M1782.7 718.4V720.1M1783.7 718.4V720.1M1784.7 716.7V720M1785.7 716.3V720.9M1786.7 715.8V720.6M1787.7 715.2V720.1M1788.7 714.6V719.5M1789.7 714.7V718.8M1790.7 713.8V718.1M1791.7 713V717.2M1792.7 712.1V716.4M1793.7 711.1V714.5M1794.7 710.2V713.4M1795.7 708.8V711.9M1796.7 706.9V710.1M1797.7 705.3V708M1798.7 703.1V705.8M1799.7 700.9V703.5M1800.7 698.8V701.3M1801.7 696.9V699.4M1802.7 695.5V698.1M1803.7 694.3V697M1804.7 693.3V696M1805.7 692.4V695M1806.7 691.6V694.1M1807.7 688.8V693.2M1808.7 687.9V692.4M1809.7 687V691.5M1810.7 686.3V691M1811.7 685.3V689.9M1812.7 684.3V688.9M1813.7 683.2V687.8M1814.7 682.2V686.8M1815.7 683V685.8M1816.7 682V685.8M1817.7 681.1V684.8M1818.7 680.1V683.8M1819.7 679.3V682.9M1820.7 678.5V682M1821.7 677.8V681.2M1822.7 676.2V680.5M1823.7 675.6V679.9M1824.7 675.1V677.4M1825.7 674.5V676.8M1826.7 673.9V676.2M1827.7 673.5V675.7M1828.7 673V675.2M1829.7 672.5V674.6M1830.7 672V674.2M1831.7 671.6V673.7M1832.7 671.3V673.6M1833.7 671V673.2M1834.7 671V672.9M1835.7 670.8V672.6M1836.7 670.6V672.4M1837.7 670.5V672.3M1838.7 670.3V672.1M1839.7 670.2V673.6M1840.7 669.6V673.5M1841.7 669.5V673.4M1842.7 669.5V673.3M1843.7 669.4V673.2M1844.7 669.3V673.1M1845.7 669.2V673.1M1846.7 669.2V671.7M1847.7 669.4V671.6M1848.7 669.3V671.5M1849.7 669.3V671.5M1850.7 669.2V671.4M1851.7 669.2V671.7M1852.7 668.7V671.6M1853.7 668.7V671.6M1854.7 668.6V671.5M1855.7 668.5V671.4M1856.7 669.1V671.4M1857.7 669V671.3M1858.7 668.9V671.2M1859.7 668.7V670.7M1860.7 668.6V670.6M1861.7 668.5V670.5M1862.7 668.4V670.3M1863.7 667.9V670.2M1864.7 667.7V669.4M1865.7 667.6V669.3M1866.7 666.6V669.2M1867.7 666.5V669M1868.7 666.4V668.9M1869.7 666.7V668.8M1870.7 666.6V669.1M1871.7 666.5V669.1M1872.7 666.5V669M1873.7 666.5V669M1874.7 665.9V668.9M1875.7 665.9V668.9M1876.7 665.9V669M1877.7 667.5V669.9M1878.7 667.5V669.9M1879.7 667.6V669.9M1880.7 667.6V669.9M1881.7 667.6V670M1882.7 667.6V670M1883.7 667.2V670M1884.7 667.2V670M1885.7 667.2V669.8M1886.7 667.9V669.9M1887.7 667.9V669.9M1888.7 667.9V669.9M1889.7 666.9V670M1890.7 667V670M1891.7 667V670M1892.7 667V669.2M1893.7 667.1V669.2M1894.7 667.1V669.3M1895.7 667.2V669.3M1896.7 667.2V669.4M1897.7 668.3V669.4M1898.7 668.4V669.5M1899.7 668.4V669.5M1900.7 668.5V670.3M1901.7 668.5V670.4M1902.7 668.6V670.5M1903.7 667.6V670.6M1904.7 667.7V670.7M1905.7 667.8V671.1M1906.7 667.9V671.2M1907.7 668V671.3M1908.7 668.5V671.4M1909.7 668.6V671.6M1910.7 668.7V671.7M1911.7 668.9V671.9M1912.7 669V672M1913.7 669.2V672.1M1914.7 669.3V672.3M1915.7 668.4V672.4M1916.7 668.6V672.6M1917.7 668.8V672.8M1918.7 668.9V672.9M1919.7 669.1V673.1M1920.7 669.3V674M1921.7 669.4V674.2M1922.7 669.6V674.3M1923.7 671.3V674.5M1924.7 671.4V674.7M1925.7 671.6V674.8M1926.7 671.8V675.3M1927.7 671.9V675.4M1928.7 672.1V675.6M1929.7 672.3V675.8M1930.7 672.4V675.9M1931.7 671V676.1M1932.7 671.1V676.3M1933.7 671.3V676.5M1934.7 671.5V675.9M1935.7 673.5V676.1M1936.7 673.7V676.3M1937.7 673.9V676.5M1938.7 673.7V676.7M1939.7 673.9V676.9M1940.7 674.1V677.1M1941.7 674.3V676.4M1942.7 674.4V676.6M1943.7 674.6V676.8M1944.7 674.8V677M1945.7 675V677.3M1946.7 675.3V677.5M1947.7 675.5V677.7M1948.7 675.7V677.9M1949.7 674.6V678.2M1950.7 674.8V678.5M1951.7 675V678.7M1952.7 675.2V678.9M1953.7 675.5V679.2M1954.7 677.9V679.4M1955.7 678.2V679.7M1956.7 678.4V681.1M1957.7 678.7V681.3M1958.7 679V681.6M1959.7 679.3V681.9M1960.7 677.8V682.2M1961.7 678.1V682.4M1962.7 678.3V681.9M1963.7 678.6V682.1M1964.7 678.9V682.4M1965.7 679.1V683.5M1966.7 679.4V683.7M1967.7 680.4V683.9M1968.7 680.6V683.5M1969.7 680.8V683.7M1970.7 679.6V683.9M1971.7 679.7V684.1M1972.7 679.9V684.3M1973.7 680.1V684.4M1974.7 680.3V684.6M1975.7 680.4V684.8M1976.7 680.6V683.7M1977.7 680.8V683.9M1978.7 682.6V684M1979.7 682.8V684.2M1980.7 682.9V684.4M1981.7 683.1V686.6M1982.7 681.5V686.7M1983.7 681.7V686.8M1984.7 681.8V687M1985.7 682V687.1M1986.7 682.1V687.2M1987.7 682.2V687.3M1988.7 682.3V687.4M1989.7 682.4V686.8M1990.7 683V686.9M1991.7 683.1V687M1992.7 683.2V687.1M1993.7 683.3V686.8M1994.7 683.3V686.9M1995.7 683.4V686.9M1996.7 683.4V687M1997.7 683.6V687M1998.7 683.6V687.1M1999.7 683.7V687.1M2000.7 683.7V687.8M2001.7 683.8V687.8M2002.7 683.8V687.9M2003.7 683.7V687.9M2004.7 683.7V688M2005.7 683.8V688.1M2006.7 683.8V688.2M2007.7 683.9V688.2M2008.7 683.9V688.3M2009.7 683.9V688.3M2010.7 684.4V688.3M2011.7 684.4V687M2012.7 684.4V687.1M2013.7 684.5V687.1M2014.7 684.5V687.1M2015.7 684.1V687.1M2016.7 684.1V687.1M2017.7 684.1V687.1M2018.7 684V687.9M2019.7 683.7V687.9M2020.7 683.6V687.8M2021.7 683.5V687.7M2022.7 683.4V687.6M2023.7 683.3V687.5M2024.7 683.1V687.1M2025.7 683V687M2026.7 682.8V686.8M2027.7 682.6V686.6M2028.7 682.4V685.7M2029.7 682.3V685.5M2030.7 679.1V686.2M2031.7 679V686.1M2032.7 678.8V685.9M2033.7 678.7V685.8M2034.7 681.4V686.2M2035.7 681.3V686M2036.7 681.2V685.9M2037.7 681.1V685.8M2038.7 681V685.8M2039.7 681V685.7M2040.7 680.9V685.8M2041.7 680.4V685.8M2042.7 680.3V685.7M2043.7 680.3V685.6M2044.7 680.4V685.6M2045.7 680.4V687.7M2046.7 680.3V687.6M2047.7 680.3V687.6M2048.7 680.2V687.5M2049.7 681V687.5M2050.7 681V687.4M2051.7 681V687.4M2052.7 680.9V688.4M2053.7 680.9V688.4M2054.7 680.9V688.4M2055.7 680.9V688.4M2056.7 680.9V688.4M2057.7 680.8V684.4M2058.7 680.8V684.4M2059.7 680.8V684.4M2060.7 680.8V688.2M2061.7 678.1V688.2M2062.7 678.1V688.2M2063.7 678.1V688.2M2064.7 681.5V688.2M2065.7 681.5V688.2M2066.7 681.5V684.6M2067.7 681.5V684.6M2068.7 680.7V684.6M2069.7 680.7V684.6M2070.7 680.7V684.6M2071.7 680.4V688.6M2072.7 680.4V688.6M2073.7 680.4V688.6M2074.7 680.4V688.6M2075.7 680.5V688.7M2076.7 680.5V688.4M2077.7 680.6V688.5M2078.7 680.7V688.6M2079.7 678V688.7M2080.7 678.2V684.3M2081.7 678.3V684.5M2082.7 678.5V684.6M2083.7 678.7V684.8M2084.7 678.8V685.1M2085.7 680.8V688.2M2086.7 681V688.6M2087.7 681.4V689.1M2088.7 681.9V689.8M2089.7 682.6V690.6M2090.7 683.4V691.5M2091.7 683.2V690.4M2092.7 684.2V691.4M2093.7 685.9V692.3M2094.7 687.6V696.3M2095.7 687.2V698.6"/>
<path stroke="#F14040" stroke-width="11.4" stroke-linecap="round" d="M299.7 666.3V671.2M300.7 666.6V671.9M301.7 667.3V672.5M302.7 667.9V673.2M303.7 668.6V673.8M304.7 669.2V674.5M305.7 669.9V673.3M306.7 670.5V673.9M307.7 669.3V674.6M308.7 670V675.2M309.7 670.7V675.9M310.7 671.3V676.6M311.7 672.8V677.2M312.7 673.5V677.9M313.7 674.1V680.1M314.7 674.8V680.7M315.7 675.5V681.4M316.7 675.7V682.1M317.7 676.4V680.7M318.7 677.1V681.4M319.7 680.2V682.1M320.7 680.9V684M321.7 681.6V684.7M322.7 682.3V685.4M323.7 683V686.1M324.7 683.7V686.8M325.7 684.4V687.5M326.7 685.1V688.2M327.7 685.1V688.9M328.7 685.8V689M329.7 686.5V689.8M330.7 687.2V690.5M331.7 686.9V691.2M332.7 687.6V694.3M333.7 688.3V695M334.7 689V695.7M335.7 691.3V696.4M336.7 692V697.2M337.7 692.7V697.9M338.7 693.4V698.6M339.7 694.1V696.2M340.7 694.8V696.9M341.7 693.6V697.5M342.7 694.2V698.1M343.7 694.9V698.7M344.7 695.4V699.6M345.7 696V700.1M346.7 696.5V700.6M347.7 697.1V701.1M348.7 698.4V701.6M349.7 698.9V702.1M350.7 699.4V703.7M351.7 699.9V704.2M352.7 700.4V704.7M353.7 699V705.3M354.7 699.6V705.9M355.7 700.1V706.5M356.7 700.8V707.1M357.7 702.4V709.5M358.7 703.2V710.3M359.7 704V711.3M360.7 704.9V709.5M361.7 706V710.5M362.7 707V711.5M363.7 709.8V712.6M364.7 710.8V713.6M365.7 711.7V714.7M366.7 712.6V715.5M367.7 713.4V716.2M368.7 713.6V717.6M369.7 714.2V718.2M370.7 714.8V718.8M371.7 715.4V719.3M372.7 715.9V719.8M373.7 714.4V720.2M374.7 714.9V720.5M375.7 715.2V720.9M376.7 715.6V721.2M377.7 715.9V721.5M378.7 716.2V723.3M379.7 716.9V723.6M380.7 717.3V724.1M381.7 717.7V724.5M382.7 718.2V725M383.7 718.7V725.5M384.7 719.2V726.1M385.7 719.2V726.6M386.7 719.7V725.9M387.7 720.2V726.4M388.7 720.7V726.9M389.7 721.2V725.7M390.7 721.7V726.2M391.7 722.1V726.6M392.7 722.6V727.1M393.7 724.7V727.5M394.7 725.1V729.5M395.7 725.6V729.9M396.7 726V730.4M397.7 727.7V730.8M398.7 728.1V731.2M399.7 728.6V731.6M400.7 729V732M401.7 729.3V732.3M402.7 729.7V734M403.7 730V734.3M404.7 730.3V734.6M405.7 730.6V734.9M406.7 730.9V735.2M407.7 731.1V734.9M408.7 731.4V735.2M409.7 731.7V735.5M410.7 729.3V735.9M411.7 729.6V736.3M412.7 730V734.8M413.7 730.5V735.3M414.7 731V735.9M415.7 731.5V736.8M416.7 733.1V737.9M417.7 734.8V739.2M418.7 737V740.8M419.7 738.6V743.6M420.7 740.2V745.3M421.7 741.6V746.9M422.7 742.6V748.5M423.7 743.4V749.6M424.7 744.2V750.4M425.7 745V751.4M426.7 745.7V752.1M427.7 747.2V752.6M428.7 747.8V753.1M429.7 748.2V754.1M430.7 748.6V754.4M431.7 748.8V754.5M432.7 749V754.6M433.7 749.1V754.7M434.7 749.2V754.8M435.7 748.6V754.9M436.7 748.7V755.1M437.7 748.8V752.9M438.7 749V753M439.7 749.2V753.2M440.7 749.3V753.4M441.7 748.6V753.6M442.7 748.8V753.5M443.7 749V753.7M444.7 749.2V754M445.7 749.5V754.3M446.7 749.8V754.6M447.7 750V755M448.7 750.4V757.5M449.7 750.7V757.9M450.7 751.2V758.4M451.7 752.6V759.1M452.7 753.3V760M453.7 754.4V760.8M454.7 755.8V761.7M455.7 757.2V762.3M456.7 758.9V763.6M457.7 760.3V765M458.7 761.7V766.4M459.7 762.6V767.8M460.7 764V769.2M461.7 765.6V770.6M462.7 767.2V771.8M463.7 768.8V773.4M464.7 770.5V775.1M465.7 772.3V776.8M466.7 774.4V778.5M467.7 776.1V780.3M468.7 777.8V782.8M469.7 779.6V784.5M470.7 781.5V786.3M471.7 783.5V788.2M472.7 786.2V790.4M473.7 788.7V793M474.7 791.6V796.8M475.7 795.8V800.7M476.7 800.1V803.8M477.7 803.1V805.9M478.7 805.1V807.7M479.7 806.7V810.1M480.7 808.1V811.5M481.7 808.4V813.1M482.7 810.7V815.3M483.7 813.5V818.4M484.7 816.6V821.9M485.7 820.2V825.4M486.7 823.6V828.1M487.7 826.4V830.8M488.7 829V833.4M489.7 831.5V835.8M490.7 834V839.3M491.7 836.4V841.7M492.7 838.9V844.2M493.7 841.3V846.6M494.7 843.7V849M495.7 845.8V851.3M496.7 848.3V852.7M497.7 850.9V855.3M498.7 853.8V858.3M499.7 856.9V861.6M500.7 860.6V865.1M501.7 864.1V868.5M502.7 867.6V871.9M503.7 870.9V875.3M504.7 874.3V878.7M505.7 877.8V882M506.7 881.2V885.4M507.7 884.6V888.8M508.7 888.2V892.1M509.7 891.5V895.5M510.7 894.9V899.6M511.7 898.3V903M512.7 901.7V906.5M513.7 905.1V909.9M514.7 908.6V912.7M515.7 912.2V916.3M516.7 915.8V920M517.7 919.5V924.2M518.7 923.4V928.1M519.7 927.3V932.1M520.7 931.3V936.1M521.7 935.4V940.2M522.7 939.4V944.3M523.7 943.2V948.4M524.7 947.2V952.4M525.7 951.3V956.1M526.7 955.3V960M527.7 959.8V963.9M528.7 963.7V967.7M529.7 967.5V971.5M530.7 970.6V975.4M531.7 974.4V979.3M532.7 978.4V983.4M533.7 982.8V987.7M534.7 987V992M535.7 991.3V996.3M536.7 995.6V1000.7M537.7 1000V1005.1M538.7 1004.4V1009.5M539.7 1008.7V1013.7M540.7 1013V1018.4M541.7 1017.2V1022.6M542.7 1021.4V1026.8M543.7 1025.6V1031.1M544.7 1029.9V1034.9M545.7 1034.2V1039.3M546.7 1038.7V1044M547.7 1043V1048.9M548.7 1048V1054M549.7 1053.1V1059.2M550.7 1058.3V1065M551.7 1063.6V1070.2M552.7 1068.7V1075.2M553.7 1073.9V1079.9M554.7 1078.6V1084.3M555.7 1082.9V1087.7M556.7 1087V1091.7M557.7 1091V1095.6M558.7 1094.9V1099.5M559.7 1098.7V1103.3M560.7 1102.5V1107.2M561.7 1106.5V1112.1M562.7 1110.5V1116.2M563.7 1114.7V1120.4M564.7 1118.9V1124.5M565.7 1123V1128.7M566.7 1127.1V1132.7M567.7 1130.8V1136.1M568.7 1134.6V1139.8M569.7 1138.2V1143.3M570.7 1141.7V1146.7M571.7 1145.8V1150M572.7 1149.1V1153.3M573.7 1152.3V1156.5M574.7 1155.5V1159.7M575.7 1158.7V1162.5M576.7 1161.9V1165.8M577.7 1164.9V1169.2M578.7 1168.2V1172.6M579.7 1171.7V1176.2M580.7 1175.8V1179.7M581.7 1179.4V1183.2M582.7 1182.9V1186.6M583.7 1186.3V1189.9M584.7 1189.5V1193M585.7 1192.6V1195.8M586.7 1195.4V1198.4M587.7 1196.8V1201M588.7 1199.3V1203.5M589.7 1201.7V1205.9M590.7 1204V1209.5M591.7 1206.3V1211.8M592.7 1208.5V1214M593.7 1210.6V1216.2M594.7 1212.9V1218.3M595.7 1214.9V1220.3M596.7 1216.9V1222.3M597.7 1218.8V1223.9M598.7 1221.6V1225.8M599.7 1223.5V1227.7M600.7 1225.3V1229.4M601.7 1227.6V1231.2M602.7 1229.2V1232.8M603.7 1230.8V1234.4M604.7 1232.2V1236M605.7 1233.8V1237.7M606.7 1235.4V1239.3M607.7 1237V1240.9M608.7 1238.7V1242.6M609.7 1240.4V1244.3M610.7 1242.2V1246M611.7 1243.9V1247.7M612.7 1245.6V1248.8M613.7 1247.3V1250.5M614.7 1249V1252.1M615.7 1250.6V1254.5M616.7 1252.2V1256.1M617.7 1252.8V1257.7M618.7 1254.3V1259.2M619.7 1255.8V1260.7M620.7 1257.3V1262.3M621.7 1258.8V1263.7M622.7 1260.2V1265.2M623.7 1261.9V1266.4M624.7 1263.2V1267.7M625.7 1264.5V1269.1M626.7 1265.7V1270.6M627.7 1267V1271.8M628.7 1268.2V1273.1M629.7 1269.3V1272.3M630.7 1270.5V1273.5M631.7 1271.4V1274.6M632.7 1272.5V1278.4M633.7 1273.5V1279.5M634.7 1274.6V1280.7M635.7 1275.7V1281.8M636.7 1276.7V1280M637.7 1277.6V1280.9M638.7 1279.9V1281.9M639.7 1280.9V1282.8M640.7 1281.8V1283.8M641.7 1282.8V1284.7M642.7 1283.7V1287.4M643.7 1284.6V1288.2M644.7 1285.5V1289.1M645.7 1285.8V1289.8M646.7 1286.5V1290.5M647.7 1287.2V1291M648.7 1287.8V1291.6M649.7 1288.4V1292.2M650.7 1288.9V1291.4M651.7 1288.5V1291.9M652.7 1289V1292.3M653.7 1289.4V1292.7M654.7 1289.8V1292.9M655.7 1290V1295.6M656.7 1290.1V1295.6M657.7 1290V1295.6M658.7 1289.9V1295.6M659.7 1290.3V1294.9M660.7 1290.1V1294.7M661.7 1289.9V1294.5M662.7 1289.2V1294.3M663.7 1288.2V1291.5M664.7 1286.5V1289.8M665.7 1284.3V1287.7M666.7 1282.1V1285.5M667.7 1278.9V1283.3M668.7 1276.8V1281.2M669.7 1274.7V1279.8M670.7 1272.5V1277.5M671.7 1270.2V1275.2M672.7 1267.9V1272.4M673.7 1267.1V1270.2M674.7 1265V1268.1M675.7 1262.9V1266M676.7 1260.9V1263.9M677.7 1258.9V1261.9M678.7 1256.6V1259.9M679.7 1254.7V1257.8M680.7 1252.7V1255.8M681.7 1250.8V1253.9M682.7 1248.9V1252M683.7 1247.1V1250.2M684.7 1245.3V1248.4M685.7 1243.6V1246.6M686.7 1240.6V1245.5M687.7 1238.8V1243.7M688.7 1237V1241.8M689.7 1235.2V1240M690.7 1233.2V1238M691.7 1231.3V1235.8M692.7 1229.4V1233.9M693.7 1227.4V1231.9M694.7 1226.7V1230.6M695.7 1224.5V1228.5M696.7 1222.3V1226.3M697.7 1220.1V1224.1M698.7 1217.7V1221.3M699.7 1215.2V1218.9M700.7 1212.2V1216.5M701.7 1209.7V1213.9M702.7 1207.1V1211.4M703.7 1204.5V1208.8M704.7 1201.9V1205.5M705.7 1199.3V1202.9M706.7 1196.8V1200.4M707.7 1194.2V1197.8M708.7 1191.4V1195.3M709.7 1188.9V1192.8M710.7 1186.5V1191.1M711.7 1184V1188.6M712.7 1181.3V1186.2M713.7 1178.8V1184.2M714.7 1176.4V1181.7M715.7 1173.9V1179.3M716.7 1171.4V1176.7M717.7 1168.8V1174.2M718.7 1166.2V1171.6M719.7 1163.6V1168.9M720.7 1161V1166.2M721.7 1158.3V1163.5M722.7 1155.6V1160.8M723.7 1152.8V1157.5M724.7 1150V1154.7M725.7 1147.1V1151.9M726.7 1144.2V1149M727.7 1141.2V1146M728.7 1137.9V1142.9M729.7 1134.7V1139.8M730.7 1131.2V1136.4M731.7 1127.4V1132.4M732.7 1123.7V1128.5M733.7 1119.6V1124.5M734.7 1115.6V1120.4M735.7 1112.1V1116.4M736.7 1108.6V1112.6M737.7 1105.4V1109.1M738.7 1102.7V1106M739.7 1100.2V1103.3M740.7 1097.9V1100.9M741.7 1095.8V1098.7M742.7 1093.9V1096.7M743.7 1091.2V1094.7M744.7 1089.4V1092.9M745.7 1087.6V1092.3M746.7 1086.1V1090.4M747.7 1084.2V1088.5M748.7 1082.2V1086.6M749.7 1079.6V1085.1M750.7 1077.6V1083.1M751.7 1075.6V1081.1M752.7 1073.7V1079.2M753.7 1071.7V1077.2M754.7 1070.2V1075.2M755.7 1068.2V1073.2M756.7 1066.2V1070.4M757.7 1064.2V1068.4M758.7 1062.2V1066.3M759.7 1060.1V1064.3M760.7 1058V1062.2M761.7 1055.8V1060M762.7 1053.3V1057.8M763.7 1051.1V1056.2M764.7 1048.9V1054M765.7 1046.7V1051.8M766.7 1044.6V1049.7M767.7 1042.5V1047.7M768.7 1040.4V1045.6M769.7 1038V1043.5M770.7 1035.9V1041.5M771.7 1033.9V1039.5M772.7 1031.9V1036.7M773.7 1029.9V1034.7M774.7 1028.6V1032.7M775.7 1026.6V1030.7M776.7 1024.7V1028.8M777.7 1022.7V1026.7M778.7 1020.6V1025.5M779.7 1019.4V1023.4M780.7 1017.3V1021.2M781.7 1015.2V1019.2M782.7 1011.7V1017.3M783.7 1009.8V1015.5M784.7 1007.9V1013.9M785.7 1006.3V1012.4M786.7 1004.8V1011M787.7 1003.2V1009.7M788.7 1001.8V1008.5M789.7 1000.3V1007.5M790.7 999.5V1006.7M791.7 998.5V1005.8M792.7 997.6V1004.9M793.7 996.7V1004M794.7 995.9V1003.2M795.7 995.1V1002.3M796.7 996.4V1001.6M797.7 995.9V1000.9M798.7 995.7V998.3M799.7 995.6V998.1M800.7 995.6V998.3M801.7 995.9V998.9M802.7 996.1V999.7M803.7 996.9V1003.1M804.7 998.1V1003.8M805.7 999.4V1004.7M806.7 1000.7V1005.9M807.7 1002.5V1007.1M808.7 1004.1V1008.4M809.7 1006.2V1010.4M810.7 1008.6V1012.6M811.7 1011.4V1015.5M812.7 1014.3V1018.4M813.7 1016.3V1021.4M814.7 1019.5V1024.6M815.7 1022.8V1028M816.7 1026.3V1031.2M817.7 1029.8V1034.9M818.7 1033.6V1039.1M819.7 1037.9V1042.6M820.7 1039.3V1044.9M821.7 1040.1V1045.2M822.7 1041.8V1045.4M823.7 1042V1045.5M824.7 1042.1V1045.7M825.7 1042.3V1046.6M826.7 1042.8V1047.5M827.7 1044.2V1048.7M828.7 1047V1051.8M829.7 1050.5V1055.5M830.7 1054.3V1060M831.7 1059.3V1065.5M832.7 1064.9V1071.1M833.7 1070.5V1076.1M834.7 1075.5V1081M835.7 1080.4V1085.8M836.7 1085.1V1090.5M837.7 1089.3V1096.1M838.7 1095V1101.3M839.7 1098.9V1103.4M840.7 1098.9V1103.4M841.7 1096.2V1102M842.7 1091.4V1098M843.7 1084.9V1092.7M844.7 1074.8V1085.9M845.7 1064.1V1075M846.7 1053V1064.2M847.7 1044.5V1053.2M848.7 1038.2V1045M849.7 1032.9V1038.8M850.7 1028.4V1033.6M851.7 1024.6V1029.4M852.7 1021.3V1025.8M853.7 1018.3V1022.6M854.7 1015.6V1019.8M855.7 1013.1V1017.3M856.7 1011V1015.1M857.7 1009V1013M858.7 1007.2V1011.2M859.7 1005.4V1009.4M860.7 1003.6V1007.7M861.7 1003.4V1006.1M862.7 1002.1V1006.8M863.7 1001.3V1006.2M864.7 1001V1005.4M865.7 1001V1005.9M866.7 1001.1V1006.1M867.7 1003.2V1008.1M868.7 1005.3V1009.9M869.7 1006.1V1012.2M870.7 1007.1V1012.5M871.7 1007.3V1012.7M872.7 1007.6V1012.8M873.7 1007.6V1012.9M874.7 1006.2V1011M875.7 995.5V1007.3M876.7 981.4V995.9M877.7 966.8V981.9M878.7 959.5V967.5M879.7 954.4V960.8M880.7 950.4V956M881.7 947V952.3M882.7 944V949.3M883.7 942.4V946.3M884.7 940.2V944M885.7 938.1V941.8M886.7 936V939.8M887.7 934.2V937.9M888.7 932.4V936.1M889.7 930.7V934.4M890.7 928.7V932.7M891.7 927V931.1M892.7 925.4V929.1M893.7 923.8V927.5M894.7 922.2V925.9M895.7 920.6V924.3M896.7 919V922.7M897.7 917.5V921M898.7 915.6V919.5M899.7 914.1V918.1M900.7 912.7V916.7M901.7 911V915.9M902.7 909.7V914.6M903.7 908.4V913.4M904.7 907V912.2M905.7 905.8V911.1M906.7 904.6V910M907.7 903.4V908.9M908.7 902.2V906.7M909.7 901.1V905.7M910.7 900.1V904.7M911.7 899.2V903.8M912.7 900V902.8M913.7 899.2V902M914.7 898.4V901.3M915.7 897.6V900.5M916.7 896.9V899.7M917.7 896.1V899M918.7 895.4V898.2M919.7 894.7V897.5M920.7 894V896.8M921.7 893.3V896M922.7 892.7V897.1M923.7 892.1V896.5M924.7 891.5V895.9M925.7 890.8V895.3M926.7 890.3V893.9M927.7 889.8V893.4M928.7 889.2V892.9M929.7 888.7V892.3M930.7 888V892.3M931.7 886.1V891.7M932.7 885.4V891M933.7 884.5V890.3M934.7 883.6V889.5M935.7 882.8V888.4M936.7 883.1V885.9M937.7 881.4V884.2M938.7 879.6V882.5M939.7 877.2V880.9M940.7 875.7V879.7M941.7 874.5V878.7M942.7 873.5V877.1M943.7 872.6V876.1M944.7 871.7V875.2M945.7 870.9V874.4M946.7 870.1V873.5M947.7 869.4V872.7M948.7 868.6V872.4M949.7 867.8V871.7M950.7 867.1V870.9M951.7 866.3V870.1M952.7 865.5V869.3M953.7 864.6V868.7M954.7 862.2V867.8M955.7 861.3V867M956.7 860.4V866.1M957.7 859.5V865.2M958.7 858.6V864.3M959.7 857.7V863.3M960.7 856.8V862.4M961.7 856V864.2M962.7 855V863.3M963.7 854.1V862.4M964.7 853.2V861.5M965.7 855.1V857.4M966.7 854.2V856.5M967.7 853.3V855.6M968.7 852.3V854.7M969.7 851.4V853.8M970.7 850.5V852.9M971.7 849.6V852M972.7 848.9V853.7M973.7 847.9V852.8M974.7 847V851.9M975.7 846.1V850.9M976.7 842.5V850M977.7 841.5V849.1M978.7 840.7V848.2M979.7 839.8V847.3M980.7 841.8V843.6M981.7 840.9V842.8M982.7 840.1V841.9M983.7 839.2V841M984.7 838.3V840.1M985.7 834.6V841.2M986.7 833.7V840.3M987.7 832.8V839.4M988.7 831.9V838.5M989.7 831V837.6M990.7 830.2V836.7M991.7 829.3V835.8M992.7 828.5V835.8M993.7 827.3V835M994.7 826.6V834.2M995.7 825.9V833.4M996.7 825.2V831.2M997.7 824.6V830.6M998.7 824V830M999.7 823.5V829.4M1000.7 825.3V828.9M1001.7 824.8V828.4M1002.7 824.3V827.9M1003.7 823.9V827.4M1004.7 823.4V827.6M1005.7 823V827.1M1006.7 822.5V826.7M1007.7 822.2V826M1008.7 821.8V825.6M1009.7 821.3V825.1M1010.7 820.8V824.7M1011.7 820.9V824.2M1012.7 820.3V823.7M1013.7 819.8V823.1M1014.7 819.3V822.6M1015.7 818.7V823.7M1016.7 818.1V823.1M1017.7 817.6V822.6M1018.7 817.1V822M1019.7 816.6V821.4M1020.7 816V820.9M1021.7 813.1V817.5M1022.7 812.5V816.9M1023.7 811.9V816.4M1024.7 811.4V815.8M1025.7 810.9V815.3M1026.7 810.4V814.8M1027.7 809.9V814.4M1028.7 810.1V813.9M1029.7 809.6V813.4M1030.7 809.1V812.9M1031.7 808.6V812.4M1032.7 808.1V811.9M1033.7 807.7V811.4M1034.7 805.7V810.9M1035.7 805.2V809.9M1036.7 804.8V809.4M1037.7 804.3V808.9M1038.7 805.3V808.6M1039.7 804.8V808.1M1040.7 804.3V807.6M1041.7 803.8V807.1M1042.7 803.3V806.6M1043.7 802.9V809.2M1044.7 802.4V808.7M1045.7 801.9V808.2M1046.7 801.8V807.7M1047.7 801.3V807.2M1048.7 800.8V806.7M1049.7 800.3V806.3M1050.7 799.4V803.3M1051.7 798.9V802.8M1052.7 798.4V802.2M1053.7 797.8V801.7M1054.7 797.3V801.2M1055.7 796.7V800.6M1056.7 796.2V801.3M1057.7 795.6V800.7M1058.7 796V800.1M1059.7 795.4V799.5M1060.7 794.8V798.9M1061.7 794.2V798.3M1062.7 792V796.5M1063.7 791.4V795.9M1064.7 790.8V795.3M1065.7 790.1V794.7M1066.7 789.5V793.3M1067.7 788.9V792.7M1068.7 788.3V792.1M1069.7 787.7V791.5M1070.7 788.3V793.7M1071.7 787.7V793.1M1072.7 787.1V792.5M1073.7 786.5V791M1074.7 785.9V790.4M1075.7 785.3V789.8M1076.7 784.6V789.2M1077.7 783.8V788.6M1078.7 783.2V788M1079.7 782.6V787.4M1080.7 782V786.8M1081.7 780.3V785.4M1082.7 779.7V784.8M1083.7 779.1V784.2M1084.7 778.5V783.9M1085.7 777.9V783.3M1086.7 777.2V782.7M1087.7 776.6V781.1M1088.7 776V780.4M1089.7 776.8V779.8M1090.7 776.2V779.2M1091.7 775.6V778.5M1092.7 775V778M1093.7 774.4V777.4M1094.7 773.9V776.8M1095.7 773.5V776.3M1096.7 773.1V775.9M1097.7 773.6V775.5M1098.7 773.3V775.1M1099.7 773V774.8M1100.7 770.9V774.3M1101.7 770.9V774.2M1102.7 770.9V774.1M1103.7 770.8V774.1M1104.7 770.6V774M1105.7 770.4V773.9M1106.7 770.2V773.8M1107.7 770V773.7M1108.7 769.8V773.7M1109.7 769.6V773.6M1110.7 769.3V773.5M1111.7 769.1V773.4M1112.7 768.9V773.3M1113.7 768.7V773.3M1114.7 768.5V773.2M1115.7 768.3V773.1M1116.7 768.1V772.3M1117.7 767.7V771.6M1118.7 766.7V770.8M1119.7 765.7V770.1M1120.7 764.7V769.3M1121.7 763.7V768.8M1122.7 763.6V768.8M1123.7 763.6V768.8M1124.7 763.5V768.8M1125.7 763.4V768.8M1126.7 763.4V768.8M1127.7 763.3V768.8M1128.7 763.2V768.8M1129.7 763.1V768.8M1130.7 763.1V768.5M1131.7 763V768M1132.7 762.5V767.5M1133.7 762V767M1134.7 761.5V766.5M1135.7 761V766M1136.7 760.5V765.5M1137.7 760.2V765M1138.7 759.8V764.5M1139.7 759.5V764M1140.7 759.1V763.8M1141.7 758.7V763.7M1142.7 758.4V763.6M1143.7 758V763.5M1144.7 757.7V763.4M1145.7 757.3V763.3M1146.7 757.2V763.3M1147.7 757.1V763.2M1148.7 757V763.1M1149.7 757V763M1150.7 756.9V762.9M1151.7 756.9V762.9M1152.7 756.8V762.8M1153.7 756.7V762.7M1154.7 756.7V762.6M1155.7 756.6V762.5M1156.7 756.6V762.5M1157.7 756.4V762.4M1158.7 755.8V762.4M1159.7 755.2V762.4M1160.7 754.6V762.4M1161.7 754.1V762.4M1162.7 753.5V762.4M1163.7 752.9V762.4M1164.7 752.3V762.4M1165.7 752.2V762.4M1166.7 752.2V762.4M1167.7 752.3V762.4M1168.7 752.8V762.4M1169.7 753.3V762.4M1170.7 753.6V762.4M1171.7 753.6V762.4M1172.7 753.6V762.4M1173.7 753.6V762.4M1174.7 753.6V762.4M1175.7 753.6V762.4M1176.7 753.6V762.4M1177.7 753.5V762.4M1178.7 753.5V762.4M1179.7 753.4V762.4M1180.7 753.4V762.5M1181.7 753.3V763.7M1182.7 753.3V764.8M1183.7 753.2V766M1184.7 753.1V767.2M1185.7 753.1V767.6M1186.7 753V767.9M1187.7 753V768.2M1188.7 752.9V768.5M1189.7 752.6V768.8M1190.7 751.9V769.1M1191.7 751.2V769.4M1192.7 750.5V769.6M1193.7 750.4V769.9M1194.7 750.7V770.2M1195.7 751.9V773.5M1196.7 753V776.8M1197.7 754.2V777.3M1198.7 755.4V777.8M1199.7 755.4V778.3M1200.7 755.4V778.6M1201.7 755.4V778.4M1202.7 755.4V778.2M1203.7 755.4V777.9M1204.7 755.4V777.7M1205.7 755.1V777.5M1206.7 754.3V777.5M1207.7 753.6V777.5M1208.7 752.8V777.5M1209.7 752.2V777.5M1210.7 752.2V777.5M1211.7 752.2V777.5M1212.7 752.2V777.5M1213.7 752.2V777.7M1214.7 752.2V777.9M1215.7 752.2V777.8M1216.7 751.7V777.2M1217.7 747.2V776.8M1218.7 742.7V776.2M1219.7 738.2V769.1M1220.7 736.3V756.6M1221.7 736V756.4M1222.7 735.8V756.2M1223.7 735.6V756.1M1224.7 735.3V755.9M1225.7 735.1V755.7M1226.7 734.7V755.5M1227.7 732.9V755.3M1228.7 731V754M1229.7 729.2V747.7M1230.7 727.4V741.5M1231.7 727V741.2M1232.7 727.4V740.9M1233.7 728.1V740.6M1234.7 728.8V740.2M1235.7 729.6V739.9M1236.7 730.3V739.6M1237.7 731V739.3M1238.7 731.7V739M1239.7 731.9V738.7M1240.7 731.9V738.3M1241.7 731.9V738M1242.7 731.9V737.7M1243.7 731.9V737.4M1244.7 731.9V737.1M1245.7 731.9V736.8M1246.7 731.5V736.4M1247.7 731.1V735.7M1248.7 730.7V735M1249.7 730.3V734.3M1250.7 729.9V733.7M1251.7 729.5V733.7M1252.7 729V733.7M1253.7 728.6V733.7M1254.7 728.4V733.7M1255.7 728.3V733.7M1256.7 728.2V733.7M1257.7 728.2V734.6M1258.7 728.1V735.8M1259.7 728V737M1260.7 727.9V737.8M1261.7 727.8V737.6M1262.7 727.4V737.5M1263.7 726.1V737.3M1264.7 724.9V737.2M1265.7 723.6V737.1M1266.7 722.3V736.9M1267.7 723.4V736.8M1268.7 724.6V736.6M1269.7 725.9V736.6M1270.7 727.1V736.6M1271.7 728.4V736.6M1272.7 729.7V736.6M1273.7 730.9V736.6M1274.7 732.2V736.6M1275.7 733.2V737.1M1276.7 733.9V740.2M1277.7 734.6V742.9M1278.7 735.3V743.2M1279.7 736V743.4M1280.7 736V743.6M1281.7 736V743.8M1282.7 736V744.1M1283.7 736V744.3M1284.7 736V747.2M1285.7 736V751.1M1286.7 733.7V751.9M1287.7 726.8V752.8M1288.7 720V752.1M1289.7 713.5V751.4M1290.7 707.4V748M1291.7 705.6V740.8M1292.7 703.9V740.1M1293.7 702.1V740M1294.7 702.3V740M1295.7 703.7V739.9M1296.7 705.1V739.9M1297.7 708.3V739.9M1298.7 713.5V739.8M1299.7 713.8V739.8M1300.7 714V739.7M1301.7 714.2V739.7M1302.7 714.5V739.7M1303.7 714.7V739.6M1304.7 715V739.6M1305.7 715.2V739.5M1306.7 715.5V739.5M1307.7 715.5V739.4M1308.7 715.5V739.4M1309.7 715.5V739.4M1310.7 715.5V739.3M1311.7 715.5V737.3M1312.7 715.5V733.5M1313.7 712.4V732.1M1314.7 708.6V730.8M1315.7 704.8V729.4M1316.7 700.9V728.1M1317.7 698.7V724.2M1318.7 698V719.8M1319.7 697.3V715.3M1320.7 696.6V714.7M1321.7 696.1V714.5M1322.7 696.1V714.3M1323.7 696.1V714.1M1324.7 696.1V713.9M1325.7 696.1V713.8M1326.7 696.1V713.6M1327.7 696.1V707.8M1328.7 696.1V701.8M1329.7 696.1V701M1330.7 694.3V700.1M1331.7 691.4V699.3M1332.7 688.4V698.5M1333.7 687.3V697.7M1334.7 687V696.9M1335.7 686.7V696.2M1336.7 686.4V695.7M1337.7 686.1V695.3M1338.7 685.8V694.8M1339.7 685.5V694.4M1340.7 685.2V693.9M1341.7 684.9V693.5M1342.7 684.6V693.1M1343.7 684.3V692.6M1344.7 684V692.2M1345.7 683.7V691.7M1346.7 683.4V691.3M1347.7 683.1V690.9M1348.7 682.8V690.3M1349.7 682.5V689M1350.7 682.2V687.8M1351.7 681.9V686.9M1352.7 681.6V686.8M1353.7 681.3V686.6M1354.7 681V686.5M1355.7 680.7V686.4M1356.7 680.4V686.3M1357.7 680.1V686.2M1358.7 679.8V686.1M1359.7 679.5V685.9M1360.7 679.2V685.8M1361.7 678.9V685.7M1362.7 678.6V685.6M1363.7 678.3V685.5M1364.7 678V684.9M1365.7 677.7V683.1M1366.7 677.4V681.3M1367.7 677.1V680.2M1368.7 676.8V679.8M1369.7 676.5V679.4M1370.7 676.2V679M1371.7 675.9V678.5M1372.7 675.6V678.1M1373.7 675.3V677.7M1374.7 675V677.3M1375.7 674.7V676.9M1376.7 674.3V676.5M1377.7 673.9V676.2M1378.7 673.4V675.9M1379.7 673V675.5M1380.7 672.5V675.2M1381.7 672.1V674.9M1382.7 671.6V674.5M1383.7 671.2V674.2M1384.7 670.7V673.9M1385.7 670.3V673.5M1386.7 669.8V673.2M1387.7 669.4V672.9M1388.7 668.9V672.5M1389.7 668.5V672.4M1390.7 668.1V672.3M1391.7 668V672.3M1392.7 668V672.2M1393.7 667.9V672.1M1394.7 667.9V672M1395.7 667.8V671.9M1396.7 667.8V671.8M1397.7 667.7V671.8M1398.7 667.6V671.8M1399.7 667.6V671.8M1400.7 666.1V672.3M1401.7 665.9V672.1M1402.7 666.7V671.9M1403.7 666.5V670M1404.7 666.3V669.8M1405.7 666.2V669.6M1406.7 666.1V669.5M1407.7 666.1V669.4M1408.7 666.5V669.5M1409.7 666.6V669.7M1410.7 666.8V673.1M1411.7 667.2V673.6M1412.7 667.6V674.1M1413.7 668.5V674.8M1414.7 669.2V674.5M1415.7 669.9V675.3M1416.7 669.8V676.3M1417.7 670.8V677.3M1418.7 672.4V678M1419.7 674.9V679.8M1420.7 678.1V683.3M1421.7 681.9V686.9M1422.7 685V689.6M1423.7 686.2V691.9M1424.7 687.1V693.4M1425.7 688V694.3M1426.7 688.9V695M1427.7 689.6V695.6M1428.7 690.8V696.2M1429.7 691.4V696.8M1430.7 692V697.5M1431.7 692.6V697.3M1432.7 693.3V698.1M1433.7 694.1V699M1434.7 694V699.9M1435.7 694.9V700.8M1436.7 695.7V701.7M1437.7 696.6V702.6M1438.7 699.8V703.5M1439.7 700.8V705.6M1440.7 702V706.5M1441.7 703.3V707.5M1442.7 704.8V708.3M1443.7 706.5V710M1444.7 708.4V712.1M1445.7 711V716.1M1446.7 715V721.7M1447.7 721V728.3M1448.7 727.6V734.9M1449.7 734.3V742.5M1450.7 741.7V750.6M1451.7 749.9V759.1M1452.7 758.4V767.5M1453.7 766.8V775.5M1454.7 774.7V782.5M1455.7 781.8V789.3M1456.7 788.6V795.8M1457.7 795.1V802.4M1458.7 801.9V809.4M1459.7 808.8V816.6M1460.7 816V824M1461.7 823.4V831.5M1462.7 830.9V839.3M1463.7 838.8V847.7M1464.7 847.2V856.7M1465.7 856.3V868.4M1466.7 868.1V882.4M1467.7 882.1V895.6M1468.7 895.2V904.8M1469.7 904V909.1M1470.7 907.7V912.2M1471.7 910.5V914.9M1472.7 912.8V917.1M1473.7 914.6V918.7M1474.7 915.1V920.3M1475.7 916.2V921.7M1476.7 917.2V923M1477.7 918.6V924.2M1478.7 919.6V926.6M1479.7 920.4V927.2M1480.7 921.1V927.8M1481.7 921.6V925.3M1482.7 921.4V925.8M1483.7 921.9V926.2M1484.7 922.3V926.8M1485.7 922.9V927.4M1486.7 923.5V929.7M1487.7 924.3V930.6M1488.7 925.6V931.5M1489.7 929V932.6M1490.7 930.9V935.7M1491.7 935V941.8M1492.7 940.9V948.3M1493.7 947.3V953.4M1494.7 952.1V957.1M1495.7 955.6V960.5M1496.7 958.7V963.3M1497.7 960.4V965.4M1498.7 960.5V966.1M1499.7 959.9V965.6M1500.7 958.9V963.5M1501.7 956.7V961.3M1502.7 954.1V958.7M1503.7 951.5V956.1M1504.7 949.2V954M1505.7 948.7V952.7M1506.7 947.3V951.5M1507.7 946V950.4M1508.7 944.9V949.5M1509.7 943.9V948.5M1510.7 941.5V947.5M1511.7 940.5V946.6M1512.7 939.5V945.6M1513.7 938.6V945.6M1514.7 939.6V944.3M1515.7 938.4V942.9M1516.7 937V941.3M1517.7 934.8V939.6M1518.7 933V937.7M1519.7 931.1V935.6M1520.7 928.8V933.4M1521.7 926.1V930.8M1522.7 922.7V927.9M1523.7 919.2V924.6M1524.7 914.8V920.8M1525.7 908.5V916.1M1526.7 900.9V909.5M1527.7 892.9V901.7M1528.7 885.3V893.7M1529.7 877.2V886M1530.7 869V878M1531.7 860.6V869.6M1532.7 852.6V861.3M1533.7 845.2V853.3M1534.7 838.7V846.1M1535.7 832.8V839.2M1536.7 827.2V833.3M1537.7 821.6V827.7M1538.7 815.5V822M1539.7 808.7V816M1540.7 800.8V809.1M1541.7 792.7V801.3M1542.7 785.1V793.2M1543.7 779V785.7M1544.7 773.3V779.4M1545.7 767.9V773.7M1546.7 762.9V768.4M1547.7 758.6V763.5M1548.7 755V759.3M1549.7 751.5V755.7M1550.7 748.4V752.5M1551.7 745.6V749.5M1552.7 743.2V746.9M1553.7 742.4V745.1M1554.7 742.3V744.2M1555.7 742.8V746.2M1556.7 744.5V748.1M1557.7 747V751.1M1558.7 750.2V754.6M1559.7 753.3V758.5M1560.7 757.6V764.7M1561.7 764V772.3M1562.7 771.7V778.6M1563.7 777.9V782.8M1564.7 782V786.6M1565.7 785.7V790M1566.7 789V793M1567.7 792.1V795.6M1568.7 794.6V797.8M1569.7 796.5V799.6M1570.7 797.9V801M1571.7 798.9V805M1572.7 799.9V805.8M1573.7 800.7V806.6M1574.7 800.8V807.6M1575.7 802.1V808.1M1576.7 803.8V808.9M1577.7 805.9V810.8M1578.7 809V815M1579.7 813.8V820.4M1580.7 819.7V826.5M1581.7 825.8V832.7M1582.7 832V839.8M1583.7 839.3V847.7M1584.7 847.1V855.5M1585.7 854.9V862.4M1586.7 862.1V868.4M1587.7 868.1V874.3M1588.7 874V880.5M1589.7 879.8V885.8M1590.7 884.9V889.8M1591.7 888.5V892.5M1592.7 889.7V893.8M1593.7 889V893.7M1594.7 886.1V892.5M1595.7 885.2V890.8M1596.7 883.7V888.2M1597.7 881.9V886.3M1598.7 878.8V883.9M1599.7 873.7V879.9M1600.7 867.5V874.5M1601.7 860.9V868.2M1602.7 854.8V861.7M1603.7 849.4V855.5M1604.7 844.9V850.3M1605.7 840.7V846M1606.7 836.8V841.9M1607.7 833V838.3M1608.7 829.2V834.5M1609.7 825.4V830.7M1610.7 821.5V826.9M1611.7 817.3V822.9M1612.7 812.7V818.6M1613.7 807.8V813.9M1614.7 803V808.7M1615.7 798.5V803.9M1616.7 795V799.8M1617.7 792V796.5M1618.7 789.4V793.9M1619.7 787.1V791.7M1620.7 784.9V789.6M1621.7 782.9V787.8M1622.7 781V786.8M1623.7 779.3V785.8M1624.7 778V784.7M1625.7 776.8V783.7M1626.7 775.7V782.8M1627.7 774.8V779.8M1628.7 774.1V778.9M1629.7 776.2V778.2M1630.7 775.9V777.6M1631.7 775.7V777.2M1632.7 775.7V777.1M1633.7 775.7V780M1634.7 775.7V780M1635.7 775.7V780M1636.7 775.7V780M1637.7 773.1V780M1638.7 773.1V780M1639.7 773.1V777.4M1640.7 773.1V777.4M1641.7 775.5V777.4M1642.7 774.3V777.9M1643.7 771.5V775.7M1644.7 767.6V772.4M1645.7 763.4V768.4M1646.7 759.7V764.2M1647.7 756.6V760.7M1648.7 752.7V758M1649.7 749.5V754.8M1650.7 746.6V751.8M1651.7 744.2V749.6M1652.7 741.6V749.3M1653.7 740.9V748.4M1654.7 740.3V746M1655.7 739.8V745.4M1656.7 739.4V744.9M1657.7 739V744.4M1658.7 738.8V744.1M1659.7 738.8V743.9M1660.7 739.9V743.9M1661.7 740V744.2M1662.7 740.3V746.7M1663.7 740.8V747.2M1664.7 741.4V747.9M1665.7 742V748.7M1666.7 742.8V748.6M1667.7 743.5V749.4M1668.7 742.6V750.1M1669.7 743.3V750.7M1670.7 743.9V750M1671.7 744.3V750.3M1672.7 744.6V750.4M1673.7 744.5V752M1674.7 743.9V751.8M1675.7 743.8V751.2M1676.7 743.2V749.5M1677.7 742V747.8M1678.7 740.6V746.1M1679.7 739V744.3M1680.7 738.8V742.6M1681.7 737.1V740.9M1682.7 735.2V739M1683.7 732.6V736.7M1684.7 730.2V734.3M1685.7 727.5V731.8M1686.7 724.8V729.1M1687.7 722V725.7M1688.7 719.2V722.9M1689.7 715.6V720.2M1690.7 713V718.1M1691.7 710.6V715.6M1692.7 709.1V713.2M1693.7 706.7V710.7M1694.7 704.3V708.3M1695.7 701.3V705.9M1696.7 698.8V703M1697.7 696.2V700.4M1698.7 693.5V697.8M1699.7 690.3V694.9M1700.7 686.8V691.4M1701.7 683V687.4M1702.7 679.9V683.7M1703.7 678V681M1704.7 674.9V680.1M1705.7 676V680.8M1706.7 678.4V682.7M1707.7 681V685.5M1708.7 684.1V688.7M1709.7 687.5V692.2M1710.7 691V695.7M1711.7 694.7V700.1M1712.7 699.3V705.7M1713.7 705V711.9M1714.7 710.9V717.6M1715.7 716.5V722.4M1716.7 720.9V726M1717.7 724.2V729.1M1718.7 727.1V731.9M1719.7 729.6V734.4M1720.7 731.9V737.5M1721.7 734.1V739.7M1722.7 737.1V741.9M1723.7 739.4V744.1M1724.7 741.7V746.5M1725.7 744.4V748M1726.7 747.3V751.3M1727.7 750.7V755.1M1728.7 754.6V759.6M1729.7 759.1V764.5M1730.7 764V769.6M1731.7 769.1V774.6M1732.7 774.1V779.4M1733.7 778.2V783.7M1734.7 782.6V788.1M1735.7 786.9V792.3M1736.7 791.1V796.6M1737.7 795.4V800.7M1738.7 799.5V805.5M1739.7 803.8V809.5M1740.7 807.8V813.4M1741.7 811.7V817.2M1742.7 815.4V820.9M1743.7 819.1V824.5M1744.7 822.5V827.8M1745.7 825.9V831M1746.7 829V834M1747.7 832V837M1748.7 834.8V839.8M1749.7 838.3V842.6M1750.7 841.1V845.5M1751.7 844.1V848.2M1752.7 847.1V851.4M1753.7 850.4V855M1754.7 854.1V858.8M1755.7 858.2V863M1756.7 862.4V867M1757.7 865.9V870.6M1758.7 869.3V873.6M1759.7 871.9V875.9M1760.7 873.8V877.8M1761.7 875.4V879.2M1762.7 876.9V880.7M1763.7 878.1V882.1M1764.7 879.3V883.4M1765.7 880.4V886.3M1766.7 881.6V887.5M1767.7 882.8V888.6M1768.7 885.1V889.8M1769.7 886.4V890.9M1770.7 887.9V892.2M1771.7 889.6V893.1M1772.7 891.5V895M1773.7 893.5V897M1774.7 895.5V899M1775.7 897.3V900.7M1776.7 898.3V903.6M1777.7 899.3V905.1M1778.7 900V905.3M1779.7 900V905.3M1780.7 899.7V905.1M1781.7 899.2V904.8M1782.7 897V901.7M1783.7 896.1V901M1784.7 895.1V900.1M1785.7 896.5V899M1786.7 895.2V897.7M1787.7 893.6V896.2M1788.7 890.5V894.2M1789.7 886.1V890.9M1790.7 880.6V886.7M1791.7 874.2V881.1M1792.7 866.8V874.7M1793.7 854.6V867.1M1794.7 840.1V855M1795.7 827.2V840.5M1796.7 817.8V827.6M1797.7 809.5V818.2M1798.7 801.9V809.9M1799.7 794.6V802.7M1800.7 787.4V795.4M1801.7 780V788.1M1802.7 772.9V780.6M1803.7 766.2V773.6M1804.7 760.3V767M1805.7 755.2V761.2M1806.7 750.7V756.2M1807.7 746.6V751.9M1808.7 742.9V747.9M1809.7 739.7V744.2M1810.7 736.4V740.8M1811.7 733.1V737.4M1812.7 729.8V734.1M1813.7 726.7V730.8M1814.7 723.8V727.7M1815.7 720.7V724.8M1816.7 717.8V722M1817.7 714.9V719.1M1818.7 711.9V716.2M1819.7 708.5V713M1820.7 704.4V709.5M1821.7 700V705.3M1822.7 696V701M1823.7 692.7V697.1M1824.7 691.1V694.5M1825.7 689.5V693.1M1826.7 688.3V692M1827.7 687.3V691.1M1828.7 684.6V691.4M1829.7 683.8V690.6M1830.7 683V689.8M1831.7 682.1V689M1832.7 681.2V688M1833.7 680.4V686.4M1834.7 680.4V684.6M1835.7 678.6V682.7M1836.7 676.7V680.6M1837.7 674.9V678.8M1838.7 673.3V677.2M1839.7 672V676.2M1840.7 671.1V675.5M1841.7 671V674.8M1842.7 668.3V674.6M1843.7 668.3V674.6M1844.7 668.3V675.4M1845.7 668.3V675.8M1846.7 670.9V676.1M1847.7 672.7V677.1M1848.7 675V679.4M1849.7 677.3V681.7M1850.7 680.1V683.9M1851.7 681.7V683.9M1852.7 682.2V683.9M1853.7 681.4V683.6M1854.7 680.4V682.8M1855.7 679.1V681.6M1856.7 677.8V680.2M1857.7 676.5V678.9M1858.7 673.1V677.9M1859.7 672.4V677.4M1860.7 672.3V676.8M1861.7 672.3V676.7M1862.7 671.8V676.9M1863.7 671.9V677.1M1864.7 672.1V677.3M1865.7 672.3V677.4M1866.7 672.5V677.5M1867.7 674.9V679.3M1868.7 674.2V679.2M1869.7 673.2V678.2M1870.7 672V676.5M1871.7 670.5V674.9M1872.7 669.1V673.7M1873.7 665.6V673.1M1874.7 665V672.2M1875.7 665V670.8M1876.7 665V671.3M1877.7 665.5V672.1M1878.7 666.4V673.1M1879.7 667.8V675.1M1880.7 669V676.2M1881.7 670V677.5M1882.7 670.8V678.8M1883.7 671.7V679.6M1884.7 672.6V680.6M1885.7 674.9V681.5M1886.7 675.8V680.5M1887.7 676.7V681.4M1888.7 677.6V682.2M1889.7 678.4V682.9M1890.7 679.1V683.5M1891.7 679.7V684M1892.7 680.2V684.4M1893.7 681.9V684.7M1894.7 682.2V684.9M1895.7 682.4V685.1M1896.7 682.7V685.4M1897.7 682.9V685.6M1898.7 683.2V686M1899.7 683.5V686.4M1900.7 684V687.2M1901.7 685V688.1M1902.7 686.7V689.9M1903.7 688.9V692.2M1904.7 691.2V694.4M1905.7 693.2V696.2M1906.7 694.4V697.6M1907.7 695.1V697.6M1908.7 695.1V699.1M1909.7 695.1V699.1M1910.7 695.1V699.1M1911.7 695.1V699.1M1912.7 695V699.1M1913.7 695V699.1M1914.7 695V699.1M1915.7 693.8V699.1M1916.7 693.8V696.9M1917.7 693.8V696.9M1918.7 693.8V696.9M1919.7 693.8V697M1920.7 694.9V697.4M1921.7 695.2V698.4M1922.7 695.8V699.1M1923.7 696.5V700M1924.7 697.4V701M1925.7 696.3V702.1M1926.7 697.5V703.2M1927.7 698.7V704.3M1928.7 699.8V705.4M1929.7 701V706.6M1930.7 702.6V707.1M1931.7 704.3V708.6M1932.7 706.1V710.3M1933.7 709.4V712M1934.7 711.2V714.2M1935.7 713V716M1936.7 714.7V717.6M1937.7 716.3V719.2M1938.7 717.6V720M1939.7 718.9V721.2M1940.7 718.9V722.4M1941.7 720V724.3M1942.7 720.9V725.4M1943.7 721.9V726.2M1944.7 722.6V726.7M1945.7 723.1V727M1946.7 723.4V727.2M1947.7 723.6V727.3M1948.7 722.6V727.4M1949.7 722.7V729.5M1950.7 722.9V729.6M1951.7 723V729.9M1952.7 724.9V730.2M1953.7 725.2V731M1954.7 726.9V731.2M1955.7 730V734.9M1956.7 733.8V737.9M1957.7 736.1V740.1M1958.7 737.5V741.7M1959.7 738.3V744.1M1960.7 739.3V745.5M1961.7 740.2V746.4M1962.7 741.1V747.2M1963.7 742.5V748M1964.7 743.3V746.4M1965.7 744.1V747.2M1966.7 744.9V748.1M1967.7 745.8V749M1968.7 746.7V749.9M1969.7 747.6V750.8M1970.7 747V751.5M1971.7 747.7V753.2M1972.7 748.3V753.7M1973.7 748V753.9M1974.7 748.3V754M1975.7 748.4V754.1M1976.7 748.4V753.2M1977.7 748.5V753.2M1978.7 748.6V753.3M1979.7 751.4V753.4M1980.7 751.5V753.4M1981.7 751.5V753.5M1982.7 751.6V753.5M1983.7 751.6V753.6M1984.7 749.9V755.3M1985.7 749.9V755.3M1986.7 750V755.3M1987.7 750V755.4M1988.7 750V755.4M1989.7 750.1V755.4M1990.7 749.6V755.4M1991.7 749.6V754.7M1992.7 749.6V754.7M1993.7 749.7V754.7M1994.7 752V754.7M1995.7 752V754.7M1996.7 752V754.7M1997.7 752V755.1M1998.7 752V755.1M1999.7 749.4V755.1M2000.7 749.4V755.1M2001.7 749.4V755.1M2002.7 752.1V753.5M2003.7 752.1V753.5M2004.7 752.1V753.5M2005.7 752.1V753.5M2006.7 752.1V753.5M2007.7 752.1V753.6M2008.7 749V753.6M2009.7 749V753.6M2010.7 749V753.6M2011.7 749V753.6M2012.7 749V756M2013.7 749V756.2M2014.7 749.2V756.5M2015.7 749.4V756M2016.7 749.7V756.3M2017.7 750.1V756.7M2018.7 750.4V755.8M2019.7 750.8V756.1M2020.7 752.9V756.3M2021.7 753.1V756.4M2022.7 753.2V757.3M2023.7 752.8V757.3M2024.7 752.1V756.9M2025.7 751.4V756.4M2026.7 750.6V755.7M2027.7 749.9V754.9M2028.7 749.3V754.2M2029.7 748.9V753.6M2030.7 748V751.9M2031.7 748.7V751.8M2032.7 748.7V751.8M2033.7 748.7V753.8M2034.7 748.7V753.8M2035.7 748.7V753.8M2036.7 748.7V753.8M2037.7 747.3V753.8M2038.7 746.5V753.7M2039.7 746.2V751.4M2040.7 744.5V749.4M2041.7 741.7V747.2M2042.7 739.4V745.2M2043.7 736.9V743.9M2044.7 735.5V743.2M2045.7 735.5V742.9M2046.7 735.6V743.1M2047.7 735.7V742.9M2048.7 735.9V743.1M2049.7 736.2V743.3M2050.7 736.4V743.6M2051.7 736.7V743.9M2052.7 737V744.2M2053.7 737.3V743.1M2054.7 737.5V743.4M2055.7 739.7V743.5M2056.7 739.9V743.7M2057.7 740V743.8M2058.7 740V746.3M2059.7 739.2V746.2M2060.7 738.6V744.5M2061.7 737.1V742.7M2062.7 735.5V739.6M2063.7 733.7V738M2064.7 732.2V736.9M2065.7 734.9V736.2M2066.7 734.9V736.3M2067.7 735.1V741M2068.7 735.4V741.3M2069.7 735.8V741.7M2070.7 735.5V742M2071.7 735.8V739.1M2072.7 735.9V739.1M2073.7 735.8V739.1M2074.7 735.5V739M2075.7 735.2V738.7M2076.7 730.9V738.4M2077.7 730.4V738.5M2078.7 729.8V738M2079.7 729.1V737.4M2080.7 728.3V736.7M2081.7 727.4V735.9M2082.7 726.8V734.7M2083.7 727.2V732.3M2084.7 724.3V729.5M2085.7 721.6V727.7M2086.7 719V727.2M2087.7 717.1V727M2088.7 716.4V726.1M2089.7 715.6V725.3M2090.7 714.5V721.3M2091.7 713.7V720.4M2092.7 713.3V718.9M2093.7 713.5V716.9M2094.7 710.4V715.1M2095.7 708.5V713M372.8 718V727.4M374 718V727M430.4 750V757.6M431.6 750V757"/>
</g>
<g stroke="#000" stroke-width="6.3" stroke-dasharray="35.4 13.1 9.9 13.06" fill="none">
<line x1="638.4" y1="82" x2="652.5" y2="1543"/>
<line x1="825" y1="82" x2="839.6" y2="1543"/>
<line x1="872.2" y1="87" x2="886.6" y2="1550"/>
<line x1="1489.2" y1="77" x2="1504" y2="1539"/>
<line x1="1585.7" y1="89.8" x2="1599.7" y2="1552.3"/>
<line x1="1767.7" y1="276" x2="1772.1" y2="1526.6"/>
</g>
<text font-size="76.8" transform="translate(619.2 660.6) rotate(-90)">3331</text>
<text font-size="76.8" transform="translate(810.3 659.3) rotate(-90)">2969</text>
<text font-size="76.8" transform="translate(954.6 653.7) rotate(-90)">2805</text>
<text font-size="76.8" transform="translate(1473.6 638) rotate(-90)">1686</text>
<text font-size="76.8" transform="translate(1667.3 635.7) rotate(-90)">1496</text>
<text font-size="76.8" transform="translate(1834.6 636.4) rotate(-90)">968</text>
<g shape-rendering="crispEdges"><rect x="1592" y="87" width="501" height="180" fill="#fff"/>
<rect x="1592" y="87" width="2" height="180" fill="#000"/><rect x="1592" y="265" width="501" height="2" fill="#000"/></g>
<rect x="1673" y="128" width="10" height="11" fill="#515151" shape-rendering="crispEdges"/>
<ellipse cx="1678" cy="218.5" rx="6" ry="5.6" fill="#F14040"/>
<text font-size="69" transform="translate(1773.1 157.2) scale(1 1.05)">Initial</text>
<text font-size="69" transform="translate(1772.8 242.4) scale(1 1.05)">Final</text>
</svg></body></html>
